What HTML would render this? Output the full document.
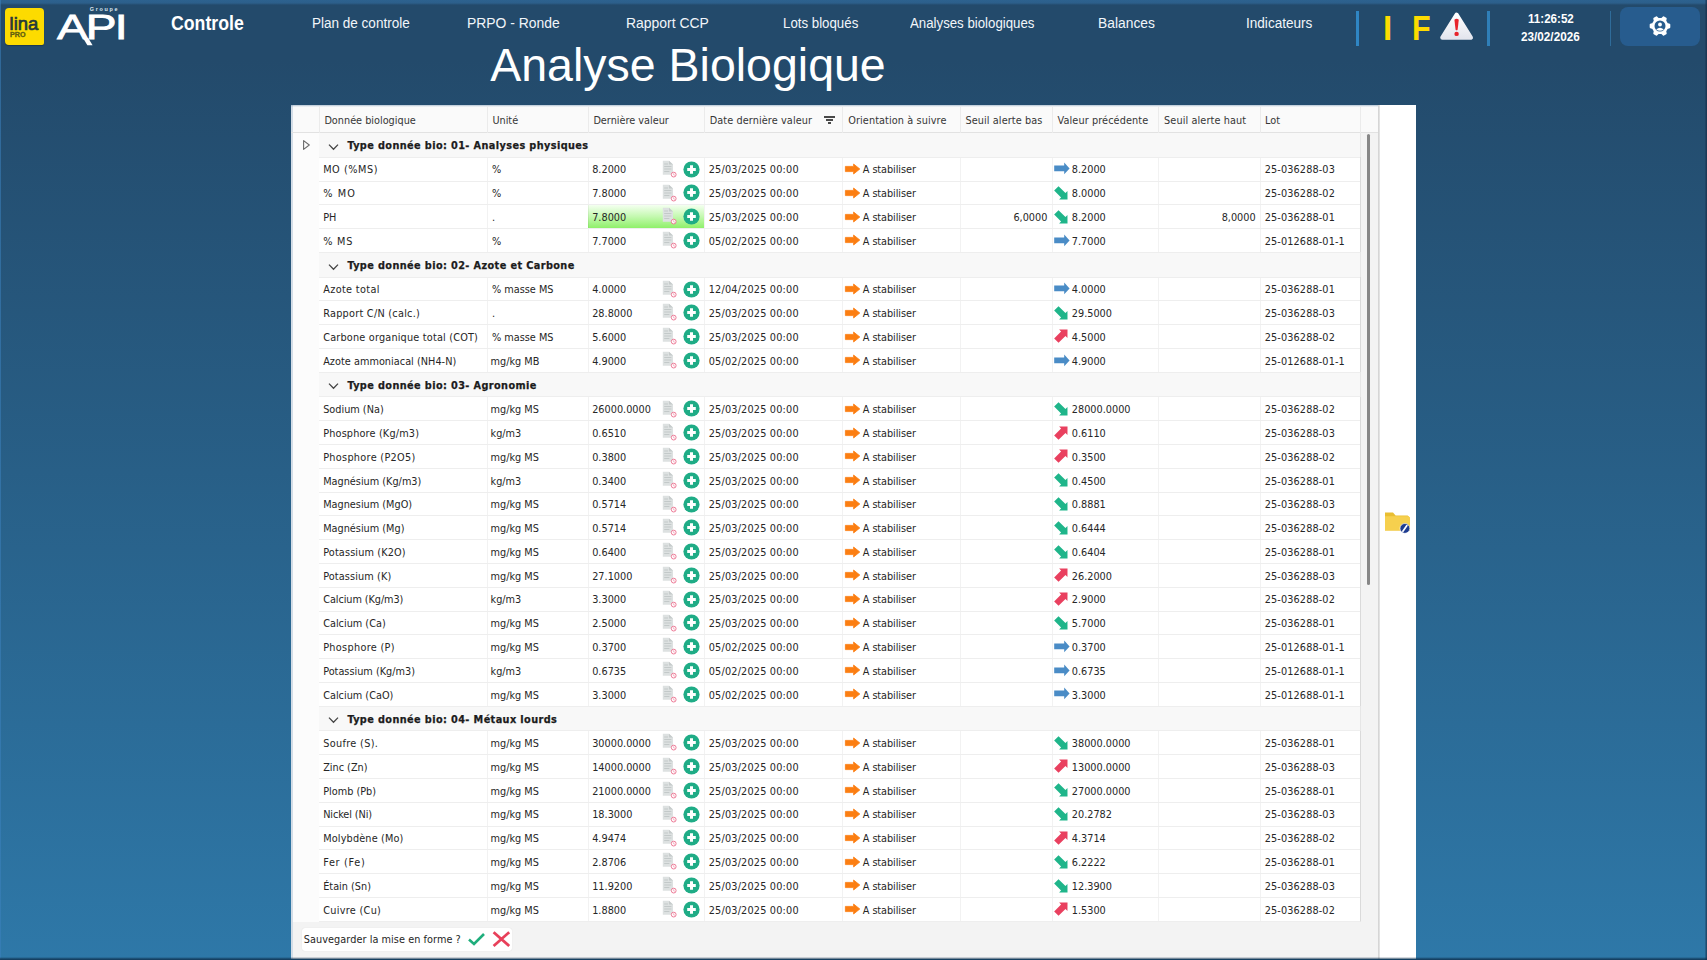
<!DOCTYPE html>
<html lang="fr"><head><meta charset="utf-8"><title>Analyse Biologique</title>
<style>
html,body{margin:0;padding:0}
body{width:1707px;height:960px;overflow:hidden;position:relative;font-family:'DejaVu Sans Condensed','DejaVu Sans','Liberation Sans',sans-serif;
background:linear-gradient(180deg,#234a6b 0px,#234a6b 60px,#2e78a8 960px);}
.t{position:absolute;white-space:nowrap;font-family:'DejaVu Sans Condensed','DejaVu Sans','Liberation Sans',sans-serif;font-stretch:condensed}
.b{position:absolute}
svg{position:absolute;overflow:visible}

</style></head><body>
<div class="b" style="left:0.00px;top:0.00px;width:1707.00px;height:4.60px;background:linear-gradient(180deg,#2d628f 0,#2c5f8b 3px,#254e72 4.6px);"></div>
<div class="b" style="left:0.00px;top:0.00px;width:1.20px;height:960.00px;background:rgba(60,130,190,0.55);"></div>
<div class="b" style="left:1704.60px;top:0.00px;width:2.40px;height:960.00px;background:linear-gradient(90deg,rgba(22,40,66,0),rgba(22,40,66,.55) 45%,rgba(22,40,66,.6));z-index:5"></div>
<div class="b" style="left:0.00px;top:957.30px;width:1707.00px;height:2.70px;background:linear-gradient(180deg,rgba(14,48,78,0),rgba(14,48,78,.55) 50%,rgba(14,48,78,.9));z-index:5"></div>
<div class="b" style="left:4.6px;top:8.1px;width:39.7px;height:36.5px;background:#fddb00;border-radius:4px 4px 2px 4px;box-shadow:0 1px 1px rgba(0,0,0,.25)"></div>
<span class="t" style="left:9.60px;top:11.62px;font-size:18.4px;line-height:24px;color:#25393a;font-family:'Liberation Sans',sans-serif;-webkit-text-stroke:0.7px #25393a;">lina</span>
<span class="t" style="left:9.80px;top:30.78px;font-size:6.4px;line-height:8px;color:#625f10;font-family:'Liberation Sans',sans-serif;font-weight:bold;transform:scaleX(1.12);transform-origin:0 50%;-webkit-text-stroke:0.3px #625f10;">PRO</span>
<span class="t" style="left:89.70px;top:5.92px;font-size:5.4px;line-height:7px;color:#dfe8f0;font-family:'Liberation Sans',sans-serif;font-weight:bold;letter-spacing:1.75px;">Groupe</span>
<span class="t" style="left:56.60px;top:4.17px;font-size:35.5px;line-height:46px;color:#ffffff;font-family:'Liberation Sans',sans-serif;letter-spacing:-1.5px;transform:scaleX(1.3);transform-origin:0 50%;-webkit-text-stroke:0.8px #fff;">API</span>
<svg style="left:50px;top:0" width="90" height="60" viewBox="0 0 90 60"><path d="M33.0 38.0 L38.2 38.0 L42.6 45.2 L37.4 45.2 Z" fill="#fff"/></svg>
<span class="t" style="left:170.60px;top:10.29px;font-size:20px;line-height:26px;color:#fff;font-family:'Liberation Sans',sans-serif;font-weight:bold;transform:scaleX(0.885);transform-origin:0 50%;">Controle</span>
<span class="t" style="left:311.90px;top:14.54px;font-size:13.8px;line-height:18px;color:#f2f6fa;font-family:'Liberation Sans',sans-serif;transform:scaleX(0.98);transform-origin:0 50%;">Plan de controle</span>
<span class="t" style="left:466.90px;top:14.54px;font-size:13.8px;line-height:18px;color:#f2f6fa;font-family:'Liberation Sans',sans-serif;transform:scaleX(1.008);transform-origin:0 50%;">PRPO - Ronde</span>
<span class="t" style="left:625.90px;top:14.54px;font-size:13.8px;line-height:18px;color:#f2f6fa;font-family:'Liberation Sans',sans-serif;transform:scaleX(1.01);transform-origin:0 50%;">Rapport CCP</span>
<span class="t" style="left:782.70px;top:14.54px;font-size:13.8px;line-height:18px;color:#f2f6fa;font-family:'Liberation Sans',sans-serif;transform:scaleX(0.962);transform-origin:0 50%;">Lots bloqués</span>
<span class="t" style="left:910.10px;top:14.54px;font-size:13.8px;line-height:18px;color:#f2f6fa;font-family:'Liberation Sans',sans-serif;transform:scaleX(0.96);transform-origin:0 50%;">Analyses biologiques</span>
<span class="t" style="left:1098.10px;top:14.54px;font-size:13.8px;line-height:18px;color:#f2f6fa;font-family:'Liberation Sans',sans-serif;">Balances</span>
<span class="t" style="left:1245.90px;top:14.54px;font-size:13.8px;line-height:18px;color:#f2f6fa;font-family:'Liberation Sans',sans-serif;transform:scaleX(0.984);transform-origin:0 50%;">Indicateurs</span>
<div class="b" style="left:1356.00px;top:10.50px;width:2.50px;height:35.00px;background:#2f86c4;"></div>
<div class="b" style="left:1487.00px;top:10.50px;width:2.80px;height:35.00px;background:#2f7fb8;"></div>
<div class="b" style="left:1609.80px;top:10.50px;width:1.20px;height:35.50px;background:#2f6c9a;"></div>
<span class="t" style="left:1383.30px;top:5.33px;font-size:35px;line-height:46px;color:#fddb00;font-family:'Liberation Sans',sans-serif;font-weight:bold;transform:scaleX(0.95);transform-origin:0 50%;">I</span>
<span class="t" style="left:1411.60px;top:5.33px;font-size:35px;line-height:46px;color:#fddb00;font-family:'Liberation Sans',sans-serif;font-weight:bold;transform:scaleX(0.87);transform-origin:0 50%;">F</span>
<svg style="left:1438px;top:10px" width="38" height="32" viewBox="0 0 38 32"><defs><linearGradient id="wg" x1="0" y1="0" x2="0" y2="1"><stop offset="0" stop-color="#ffffff"/><stop offset="1" stop-color="#e4e6ee"/></linearGradient></defs><path d="M18.6 4.8 L32.8 27.6 L4.4 27.6 Z" fill="url(#wg)" stroke="url(#wg)" stroke-width="4.4" stroke-linejoin="round"/><path d="M16.4 9.8 Q18.6 7.6 20.8 9.8 L19.6 19.8 Q18.6 20.8 17.6 19.8 Z" fill="#e8242c"/><circle cx="18.6" cy="23.9" r="2.2" fill="#e8242c"/></svg>
<span class="t" style="left:1527.60px;top:11.00px;font-size:12.7px;line-height:17px;color:#fff;font-family:'Liberation Sans',sans-serif;font-weight:bold;transform:scaleX(0.915);transform-origin:0 50%;">11:26:52</span>
<span class="t" style="left:1521.20px;top:28.90px;font-size:12.7px;line-height:17px;color:#fff;font-family:'Liberation Sans',sans-serif;font-weight:bold;transform:scaleX(0.925);transform-origin:0 50%;">23/02/2026</span>
<div class="b" style="left:1619.5px;top:6.7px;width:80.5px;height:39.3px;background:#275c8e;border-radius:8px"></div>
<svg style="left:1648.5px;top:15.4px" width="22" height="22" viewBox="0 0 22 22"><path d="M18.11 8.94 L20.41 9.71 L20.41 12.29 L18.11 13.06 L16.34 16.12 L16.82 18.51 L14.59 19.80 L12.77 18.19 L9.23 18.19 L7.41 19.80 L5.18 18.51 L5.66 16.12 L3.89 13.06 L1.59 12.29 L1.59 9.71 L3.89 8.94 L5.66 5.88 L5.18 3.49 L7.41 2.20 L9.23 3.81 L12.77 3.81 L14.59 2.20 L16.82 3.49 L16.34 5.88Z" fill="#fff" stroke="#fff" stroke-width="1.8" stroke-linejoin="round"/><circle cx="11" cy="11" r="5.5" fill="#275c8e"/><circle cx="11" cy="9.5" r="1.9" fill="#fff"/><path d="M7.2 14.4 Q11 11.2 14.8 14.4 Q11 17.2 7.2 14.4Z" fill="#fff"/></svg>
<span class="t" style="left:490.20px;top:35.23px;font-size:46.5px;line-height:60px;color:#ffffff;font-family:'Liberation Sans',sans-serif;">Analyse Biologique</span>
<div class="b" style="left:291.00px;top:105.00px;width:1087.00px;height:854.00px;background:#f3f3f3;"></div>
<div class="b" style="left:291.00px;top:105.00px;width:1.60px;height:854.00px;background:#d3dde7;"></div>
<div class="b" style="left:1378.00px;top:105.00px;width:2.40px;height:854.00px;background:linear-gradient(90deg,#cfcfcf,#e9e9e9);"></div>
<div class="b" style="left:1380.20px;top:105.00px;width:35.80px;height:854.00px;background:#ffffff;"></div>
<div class="b" style="left:292.60px;top:105.00px;width:1085.40px;height:27.50px;background:#fafafa;"></div>
<div class="b" style="left:291.00px;top:105.00px;width:1087.00px;height:1.60px;background:linear-gradient(180deg,rgba(120,150,180,.55),rgba(160,185,205,0));"></div>
<div class="b" style="left:291.00px;top:132.00px;width:1087.00px;height:1.00px;background:#e2e2e2;"></div>
<div class="b" style="left:318.50px;top:106.00px;width:1.00px;height:26.50px;background:#ebebeb;"></div>
<div class="b" style="left:486.50px;top:106.00px;width:1.00px;height:26.50px;background:#ebebeb;"></div>
<div class="b" style="left:587.50px;top:106.00px;width:1.00px;height:26.50px;background:#ebebeb;"></div>
<div class="b" style="left:703.80px;top:106.00px;width:1.00px;height:26.50px;background:#ebebeb;"></div>
<div class="b" style="left:842.30px;top:106.00px;width:1.00px;height:26.50px;background:#ebebeb;"></div>
<div class="b" style="left:959.50px;top:106.00px;width:1.00px;height:26.50px;background:#ebebeb;"></div>
<div class="b" style="left:1051.70px;top:106.00px;width:1.00px;height:26.50px;background:#ebebeb;"></div>
<div class="b" style="left:1158.20px;top:106.00px;width:1.00px;height:26.50px;background:#ebebeb;"></div>
<div class="b" style="left:1260.00px;top:106.00px;width:1.00px;height:26.50px;background:#ebebeb;"></div>
<div class="b" style="left:1359.80px;top:106.00px;width:1.00px;height:26.50px;background:#ebebeb;"></div>
<span class="t" style="left:324.40px;top:113.66px;font-size:10.8px;line-height:14px;color:#363636;">Donnée biologique</span>
<span class="t" style="left:492.40px;top:113.66px;font-size:10.8px;line-height:14px;color:#363636;">Unité</span>
<span class="t" style="left:593.40px;top:113.66px;font-size:10.8px;line-height:14px;color:#363636;">Dernière valeur</span>
<span class="t" style="left:709.70px;top:113.66px;font-size:10.8px;line-height:14px;color:#363636;letter-spacing:0.1px;">Date dernière valeur</span>
<span class="t" style="left:848.20px;top:113.66px;font-size:10.8px;line-height:14px;color:#363636;letter-spacing:0.1px;">Orientation à suivre</span>
<span class="t" style="left:965.40px;top:113.66px;font-size:10.8px;line-height:14px;color:#363636;letter-spacing:0.1px;">Seuil alerte bas</span>
<span class="t" style="left:1057.60px;top:113.66px;font-size:10.8px;line-height:14px;color:#363636;letter-spacing:0.1px;">Valeur précédente</span>
<span class="t" style="left:1164.10px;top:113.66px;font-size:10.8px;line-height:14px;color:#363636;letter-spacing:0.1px;">Seuil alerte haut</span>
<span class="t" style="left:1265.00px;top:113.66px;font-size:10.8px;line-height:14px;color:#363636;letter-spacing:0.1px;">Lot</span>
<div class="b" style="left:824.00px;top:115.90px;width:11.30px;height:1.80px;background:#4a4a4a;"></div>
<div class="b" style="left:826.00px;top:119.10px;width:7.30px;height:1.80px;background:#4a4a4a;"></div>
<div class="b" style="left:828.00px;top:122.20px;width:3.30px;height:1.80px;background:#4a4a4a;"></div>
<div class="b" style="left:292.60px;top:132.50px;width:26.40px;height:789.20px;background:#fcfcfc;"></div>
<div class="b" style="left:318.50px;top:132.50px;width:1.00px;height:789.20px;background:#e4e4e4;"></div>
<svg style="left:300px;top:138px" width="12" height="14" viewBox="0 0 12 14"><path d="M3.6 2.6 L9.3 7 L3.6 11.4 Z" fill="none" stroke="#6a6a6a" stroke-width="1.1" stroke-linejoin="round"/></svg>
<div class="b" style="left:319.00px;top:132.50px;width:1041.30px;height:24.75px;background:#f8f8f8;"></div>
<div class="b" style="left:319.00px;top:156.75px;width:1041.30px;height:1.00px;background:#eeeeee;z-index:1"></div>
<svg style="left:328.20px;top:142.68px" width="11" height="8" viewBox="0 0 11 8"><path d="M1 1.6 L5.5 6.2 L10 1.6" fill="none" stroke="#444" stroke-width="1.3"/></svg>
<span class="t" style="left:347.40px;top:139.19px;font-size:10.8px;line-height:14px;color:#1c1c1c;font-weight:bold;letter-spacing:0.4px;-webkit-text-stroke:0.25px #1c1c1c;">Type donnée bio: 01- Analyses physiques</span>
<div class="b" style="left:319.00px;top:157.25px;width:1041.30px;height:23.78px;background:#ffffff;"></div>
<span class="t" style="left:323.20px;top:163.45px;font-size:10.8px;line-height:14px;color:#262626;letter-spacing:0.543px;">MO (%MS)</span>
<span class="t" style="left:492.00px;top:163.45px;font-size:10.8px;line-height:14px;color:#262626;">%</span>
<span class="t" style="left:592.20px;top:163.45px;font-size:10.8px;line-height:14px;color:#262626;">8.2000</span>
<svg style="left:661.80px;top:159.84px" width="16" height="18" viewBox="0 0 16 18"><path d="M0.8 0.8 H7 L11 4.6 V14.8 H0.8 Z" fill="#dde1e1"/><path d="M7 0.8 L11 4.6 H7 Z" fill="#c6cbcb"/><path d="M2.2 4 H6 M2.2 6.5 H9.4 M2.2 9 H9.4 M2.2 11.5 H7.4" stroke="#c3c9c9" stroke-width="1"/><circle cx="11.7" cy="14.6" r="2.4" fill="#fff" stroke="#ec7592" stroke-width="0.95"/><path d="M11.7 13.3 V14.8 L12.8 15.3" stroke="#ec7592" stroke-width="0.6" fill="none"/></svg>
<svg style="left:683.00px;top:160.64px" width="17" height="17" viewBox="0 0 17 17"><circle cx="8.5" cy="8.5" r="8.1" fill="#1fac86"/><path d="M8.5 4.2 V12.8 M4.2 8.5 H12.8" stroke="#fff" stroke-width="3"/></svg>
<span class="t" style="left:708.70px;top:163.45px;font-size:10.8px;line-height:14px;color:#262626;letter-spacing:0.19px;">25/03/2025 00:00</span>
<svg style="left:844.60px;top:163.14px" width="16" height="12" viewBox="0 0 16 12"><path d="M0.4 3.4 H8.6 V1 L14.8 6 L8.6 11 V8.6 H0.4 Z" fill="#fb7e12" stroke="#fb7e12" stroke-width="0.8" stroke-linejoin="round"/></svg>
<span class="t" style="left:862.80px;top:163.45px;font-size:10.8px;line-height:14px;color:#262626;letter-spacing:-0.07px;">A stabiliser</span>
<svg style="left:1054.00px;top:162.34px" width="17" height="13" viewBox="0 0 17 13"><path d="M0.2 3.6 H10.2 V0.6 L15.6 6.4 L10.2 12.2 V9.2 H0.2 Z" fill="#4a8cc6"/></svg>
<span class="t" style="left:1071.80px;top:163.45px;font-size:10.8px;line-height:14px;color:#262626;">8.2000</span>
<span class="t" style="left:1264.80px;top:163.45px;font-size:10.8px;line-height:14px;color:#262626;letter-spacing:0.11px;">25-036288-03</span>
<div class="b" style="left:319.00px;top:180.53px;width:1041.30px;height:1.00px;background:#eeeeee;z-index:1"></div>
<div class="b" style="left:319.00px;top:181.03px;width:1041.30px;height:23.78px;background:#ffffff;"></div>
<span class="t" style="left:323.20px;top:187.23px;font-size:10.8px;line-height:14px;color:#262626;letter-spacing:1.133px;">% MO</span>
<span class="t" style="left:492.00px;top:187.23px;font-size:10.8px;line-height:14px;color:#262626;">%</span>
<span class="t" style="left:592.20px;top:187.23px;font-size:10.8px;line-height:14px;color:#262626;">7.8000</span>
<svg style="left:661.80px;top:183.62px" width="16" height="18" viewBox="0 0 16 18"><path d="M0.8 0.8 H7 L11 4.6 V14.8 H0.8 Z" fill="#dde1e1"/><path d="M7 0.8 L11 4.6 H7 Z" fill="#c6cbcb"/><path d="M2.2 4 H6 M2.2 6.5 H9.4 M2.2 9 H9.4 M2.2 11.5 H7.4" stroke="#c3c9c9" stroke-width="1"/><circle cx="11.7" cy="14.6" r="2.4" fill="#fff" stroke="#ec7592" stroke-width="0.95"/><path d="M11.7 13.3 V14.8 L12.8 15.3" stroke="#ec7592" stroke-width="0.6" fill="none"/></svg>
<svg style="left:683.00px;top:184.42px" width="17" height="17" viewBox="0 0 17 17"><circle cx="8.5" cy="8.5" r="8.1" fill="#1fac86"/><path d="M8.5 4.2 V12.8 M4.2 8.5 H12.8" stroke="#fff" stroke-width="3"/></svg>
<span class="t" style="left:708.70px;top:187.23px;font-size:10.8px;line-height:14px;color:#262626;letter-spacing:0.19px;">25/03/2025 00:00</span>
<svg style="left:844.60px;top:186.92px" width="16" height="12" viewBox="0 0 16 12"><path d="M0.4 3.4 H8.6 V1 L14.8 6 L8.6 11 V8.6 H0.4 Z" fill="#fb7e12" stroke="#fb7e12" stroke-width="0.8" stroke-linejoin="round"/></svg>
<span class="t" style="left:862.80px;top:187.23px;font-size:10.8px;line-height:14px;color:#262626;letter-spacing:-0.07px;">A stabiliser</span>
<svg style="left:1055.00px;top:187.02px" width="15" height="15" viewBox="0 0 15 15"><g transform="rotate(45 7.5 7.5)"><path d="M-1.2 4.4 H8.6 V1.6 L14.6 7.5 L8.6 13.4 V10.6 H-1.2 Z" fill="#1fb58a"/></g></svg>
<span class="t" style="left:1071.80px;top:187.23px;font-size:10.8px;line-height:14px;color:#262626;">8.0000</span>
<span class="t" style="left:1264.80px;top:187.23px;font-size:10.8px;line-height:14px;color:#262626;letter-spacing:0.11px;">25-036288-02</span>
<div class="b" style="left:319.00px;top:204.31px;width:1041.30px;height:1.00px;background:#eeeeee;z-index:1"></div>
<div class="b" style="left:319.00px;top:204.81px;width:1041.30px;height:23.78px;background:#ffffff;"></div>
<div class="b" style="left:588.00px;top:205.31px;width:116.30px;height:22.78px;background:linear-gradient(180deg,#f4fff0 0%,#c4f9b0 50%,#8ff06a 100%);"></div>
<span class="t" style="left:323.20px;top:211.01px;font-size:10.8px;line-height:14px;color:#262626;">PH</span>
<span class="t" style="left:492.00px;top:211.01px;font-size:10.8px;line-height:14px;color:#262626;">.</span>
<span class="t" style="left:592.20px;top:211.01px;font-size:10.8px;line-height:14px;color:#262626;">7.8000</span>
<svg style="left:661.80px;top:207.40px" width="16" height="18" viewBox="0 0 16 18"><path d="M0.8 0.8 H7 L11 4.6 V14.8 H0.8 Z" fill="#dde1e1"/><path d="M7 0.8 L11 4.6 H7 Z" fill="#c6cbcb"/><path d="M2.2 4 H6 M2.2 6.5 H9.4 M2.2 9 H9.4 M2.2 11.5 H7.4" stroke="#c3c9c9" stroke-width="1"/><circle cx="11.7" cy="14.6" r="2.4" fill="#fff" stroke="#ec7592" stroke-width="0.95"/><path d="M11.7 13.3 V14.8 L12.8 15.3" stroke="#ec7592" stroke-width="0.6" fill="none"/></svg>
<svg style="left:683.00px;top:208.20px" width="17" height="17" viewBox="0 0 17 17"><circle cx="8.5" cy="8.5" r="8.1" fill="#1fac86"/><path d="M8.5 4.2 V12.8 M4.2 8.5 H12.8" stroke="#fff" stroke-width="3"/></svg>
<span class="t" style="left:708.70px;top:211.01px;font-size:10.8px;line-height:14px;color:#262626;letter-spacing:0.19px;">25/03/2025 00:00</span>
<svg style="left:844.60px;top:210.70px" width="16" height="12" viewBox="0 0 16 12"><path d="M0.4 3.4 H8.6 V1 L14.8 6 L8.6 11 V8.6 H0.4 Z" fill="#fb7e12" stroke="#fb7e12" stroke-width="0.8" stroke-linejoin="round"/></svg>
<span class="t" style="left:862.80px;top:211.01px;font-size:10.8px;line-height:14px;color:#262626;letter-spacing:-0.07px;">A stabiliser</span>
<span class="t" style="right:659.60px;top:211.01px;font-size:10.8px;line-height:14px;color:#262626;">6,0000</span>
<svg style="left:1055.00px;top:210.80px" width="15" height="15" viewBox="0 0 15 15"><g transform="rotate(45 7.5 7.5)"><path d="M-1.2 4.4 H8.6 V1.6 L14.6 7.5 L8.6 13.4 V10.6 H-1.2 Z" fill="#1fb58a"/></g></svg>
<span class="t" style="left:1071.80px;top:211.01px;font-size:10.8px;line-height:14px;color:#262626;">8.2000</span>
<span class="t" style="right:451.40px;top:211.01px;font-size:10.8px;line-height:14px;color:#262626;">8,0000</span>
<span class="t" style="left:1264.80px;top:211.01px;font-size:10.8px;line-height:14px;color:#262626;letter-spacing:0.11px;">25-036288-01</span>
<div class="b" style="left:319.00px;top:228.09px;width:1041.30px;height:1.00px;background:#eeeeee;z-index:1"></div>
<div class="b" style="left:319.00px;top:228.59px;width:1041.30px;height:23.78px;background:#ffffff;"></div>
<span class="t" style="left:323.20px;top:234.79px;font-size:10.8px;line-height:14px;color:#262626;letter-spacing:0.8px;">% MS</span>
<span class="t" style="left:492.00px;top:234.79px;font-size:10.8px;line-height:14px;color:#262626;">%</span>
<span class="t" style="left:592.20px;top:234.79px;font-size:10.8px;line-height:14px;color:#262626;">7.7000</span>
<svg style="left:661.80px;top:231.18px" width="16" height="18" viewBox="0 0 16 18"><path d="M0.8 0.8 H7 L11 4.6 V14.8 H0.8 Z" fill="#dde1e1"/><path d="M7 0.8 L11 4.6 H7 Z" fill="#c6cbcb"/><path d="M2.2 4 H6 M2.2 6.5 H9.4 M2.2 9 H9.4 M2.2 11.5 H7.4" stroke="#c3c9c9" stroke-width="1"/><circle cx="11.7" cy="14.6" r="2.4" fill="#fff" stroke="#ec7592" stroke-width="0.95"/><path d="M11.7 13.3 V14.8 L12.8 15.3" stroke="#ec7592" stroke-width="0.6" fill="none"/></svg>
<svg style="left:683.00px;top:231.98px" width="17" height="17" viewBox="0 0 17 17"><circle cx="8.5" cy="8.5" r="8.1" fill="#1fac86"/><path d="M8.5 4.2 V12.8 M4.2 8.5 H12.8" stroke="#fff" stroke-width="3"/></svg>
<span class="t" style="left:708.70px;top:234.79px;font-size:10.8px;line-height:14px;color:#262626;letter-spacing:0.19px;">05/02/2025 00:00</span>
<svg style="left:844.60px;top:234.48px" width="16" height="12" viewBox="0 0 16 12"><path d="M0.4 3.4 H8.6 V1 L14.8 6 L8.6 11 V8.6 H0.4 Z" fill="#fb7e12" stroke="#fb7e12" stroke-width="0.8" stroke-linejoin="round"/></svg>
<span class="t" style="left:862.80px;top:234.79px;font-size:10.8px;line-height:14px;color:#262626;letter-spacing:-0.07px;">A stabiliser</span>
<svg style="left:1054.00px;top:233.68px" width="17" height="13" viewBox="0 0 17 13"><path d="M0.2 3.6 H10.2 V0.6 L15.6 6.4 L10.2 12.2 V9.2 H0.2 Z" fill="#4a8cc6"/></svg>
<span class="t" style="left:1071.80px;top:234.79px;font-size:10.8px;line-height:14px;color:#262626;">7.7000</span>
<span class="t" style="left:1264.80px;top:234.79px;font-size:10.8px;line-height:14px;color:#262626;letter-spacing:0.11px;">25-012688-01-1</span>
<div class="b" style="left:319.00px;top:251.87px;width:1041.30px;height:1.00px;background:#eeeeee;z-index:1"></div>
<div class="b" style="left:319.00px;top:252.37px;width:1041.30px;height:24.75px;background:#f8f8f8;"></div>
<div class="b" style="left:319.00px;top:276.62px;width:1041.30px;height:1.00px;background:#eeeeee;z-index:1"></div>
<svg style="left:328.20px;top:262.55px" width="11" height="8" viewBox="0 0 11 8"><path d="M1 1.6 L5.5 6.2 L10 1.6" fill="none" stroke="#444" stroke-width="1.3"/></svg>
<span class="t" style="left:347.40px;top:259.06px;font-size:10.8px;line-height:14px;color:#1c1c1c;font-weight:bold;letter-spacing:0.4px;-webkit-text-stroke:0.25px #1c1c1c;">Type donnée bio: 02- Azote et Carbone</span>
<div class="b" style="left:319.00px;top:277.12px;width:1041.30px;height:23.78px;background:#ffffff;"></div>
<span class="t" style="left:323.20px;top:283.32px;font-size:10.8px;line-height:14px;color:#262626;letter-spacing:0.35px;">Azote total</span>
<span class="t" style="left:492.00px;top:283.32px;font-size:10.8px;line-height:14px;color:#262626;">% masse MS</span>
<span class="t" style="left:592.20px;top:283.32px;font-size:10.8px;line-height:14px;color:#262626;">4.0000</span>
<svg style="left:661.80px;top:279.71px" width="16" height="18" viewBox="0 0 16 18"><path d="M0.8 0.8 H7 L11 4.6 V14.8 H0.8 Z" fill="#dde1e1"/><path d="M7 0.8 L11 4.6 H7 Z" fill="#c6cbcb"/><path d="M2.2 4 H6 M2.2 6.5 H9.4 M2.2 9 H9.4 M2.2 11.5 H7.4" stroke="#c3c9c9" stroke-width="1"/><circle cx="11.7" cy="14.6" r="2.4" fill="#fff" stroke="#ec7592" stroke-width="0.95"/><path d="M11.7 13.3 V14.8 L12.8 15.3" stroke="#ec7592" stroke-width="0.6" fill="none"/></svg>
<svg style="left:683.00px;top:280.51px" width="17" height="17" viewBox="0 0 17 17"><circle cx="8.5" cy="8.5" r="8.1" fill="#1fac86"/><path d="M8.5 4.2 V12.8 M4.2 8.5 H12.8" stroke="#fff" stroke-width="3"/></svg>
<span class="t" style="left:708.70px;top:283.32px;font-size:10.8px;line-height:14px;color:#262626;letter-spacing:0.19px;">12/04/2025 00:00</span>
<svg style="left:844.60px;top:283.01px" width="16" height="12" viewBox="0 0 16 12"><path d="M0.4 3.4 H8.6 V1 L14.8 6 L8.6 11 V8.6 H0.4 Z" fill="#fb7e12" stroke="#fb7e12" stroke-width="0.8" stroke-linejoin="round"/></svg>
<span class="t" style="left:862.80px;top:283.32px;font-size:10.8px;line-height:14px;color:#262626;letter-spacing:-0.07px;">A stabiliser</span>
<svg style="left:1054.00px;top:282.21px" width="17" height="13" viewBox="0 0 17 13"><path d="M0.2 3.6 H10.2 V0.6 L15.6 6.4 L10.2 12.2 V9.2 H0.2 Z" fill="#4a8cc6"/></svg>
<span class="t" style="left:1071.80px;top:283.32px;font-size:10.8px;line-height:14px;color:#262626;">4.0000</span>
<span class="t" style="left:1264.80px;top:283.32px;font-size:10.8px;line-height:14px;color:#262626;letter-spacing:0.11px;">25-036288-01</span>
<div class="b" style="left:319.00px;top:300.40px;width:1041.30px;height:1.00px;background:#eeeeee;z-index:1"></div>
<div class="b" style="left:319.00px;top:300.90px;width:1041.30px;height:23.78px;background:#ffffff;"></div>
<span class="t" style="left:323.20px;top:307.10px;font-size:10.8px;line-height:14px;color:#262626;letter-spacing:0.256px;">Rapport C/N (calc.)</span>
<span class="t" style="left:492.00px;top:307.10px;font-size:10.8px;line-height:14px;color:#262626;">.</span>
<span class="t" style="left:592.20px;top:307.10px;font-size:10.8px;line-height:14px;color:#262626;">28.8000</span>
<svg style="left:661.80px;top:303.49px" width="16" height="18" viewBox="0 0 16 18"><path d="M0.8 0.8 H7 L11 4.6 V14.8 H0.8 Z" fill="#dde1e1"/><path d="M7 0.8 L11 4.6 H7 Z" fill="#c6cbcb"/><path d="M2.2 4 H6 M2.2 6.5 H9.4 M2.2 9 H9.4 M2.2 11.5 H7.4" stroke="#c3c9c9" stroke-width="1"/><circle cx="11.7" cy="14.6" r="2.4" fill="#fff" stroke="#ec7592" stroke-width="0.95"/><path d="M11.7 13.3 V14.8 L12.8 15.3" stroke="#ec7592" stroke-width="0.6" fill="none"/></svg>
<svg style="left:683.00px;top:304.29px" width="17" height="17" viewBox="0 0 17 17"><circle cx="8.5" cy="8.5" r="8.1" fill="#1fac86"/><path d="M8.5 4.2 V12.8 M4.2 8.5 H12.8" stroke="#fff" stroke-width="3"/></svg>
<span class="t" style="left:708.70px;top:307.10px;font-size:10.8px;line-height:14px;color:#262626;letter-spacing:0.19px;">25/03/2025 00:00</span>
<svg style="left:844.60px;top:306.79px" width="16" height="12" viewBox="0 0 16 12"><path d="M0.4 3.4 H8.6 V1 L14.8 6 L8.6 11 V8.6 H0.4 Z" fill="#fb7e12" stroke="#fb7e12" stroke-width="0.8" stroke-linejoin="round"/></svg>
<span class="t" style="left:862.80px;top:307.10px;font-size:10.8px;line-height:14px;color:#262626;letter-spacing:-0.07px;">A stabiliser</span>
<svg style="left:1055.00px;top:306.89px" width="15" height="15" viewBox="0 0 15 15"><g transform="rotate(45 7.5 7.5)"><path d="M-1.2 4.4 H8.6 V1.6 L14.6 7.5 L8.6 13.4 V10.6 H-1.2 Z" fill="#1fb58a"/></g></svg>
<span class="t" style="left:1071.80px;top:307.10px;font-size:10.8px;line-height:14px;color:#262626;">29.5000</span>
<span class="t" style="left:1264.80px;top:307.10px;font-size:10.8px;line-height:14px;color:#262626;letter-spacing:0.11px;">25-036288-03</span>
<div class="b" style="left:319.00px;top:324.18px;width:1041.30px;height:1.00px;background:#eeeeee;z-index:1"></div>
<div class="b" style="left:319.00px;top:324.68px;width:1041.30px;height:23.78px;background:#ffffff;"></div>
<span class="t" style="left:323.20px;top:330.88px;font-size:10.8px;line-height:14px;color:#262626;letter-spacing:0.189px;">Carbone organique total (COT)</span>
<span class="t" style="left:492.00px;top:330.88px;font-size:10.8px;line-height:14px;color:#262626;">% masse MS</span>
<span class="t" style="left:592.20px;top:330.88px;font-size:10.8px;line-height:14px;color:#262626;">5.6000</span>
<svg style="left:661.80px;top:327.27px" width="16" height="18" viewBox="0 0 16 18"><path d="M0.8 0.8 H7 L11 4.6 V14.8 H0.8 Z" fill="#dde1e1"/><path d="M7 0.8 L11 4.6 H7 Z" fill="#c6cbcb"/><path d="M2.2 4 H6 M2.2 6.5 H9.4 M2.2 9 H9.4 M2.2 11.5 H7.4" stroke="#c3c9c9" stroke-width="1"/><circle cx="11.7" cy="14.6" r="2.4" fill="#fff" stroke="#ec7592" stroke-width="0.95"/><path d="M11.7 13.3 V14.8 L12.8 15.3" stroke="#ec7592" stroke-width="0.6" fill="none"/></svg>
<svg style="left:683.00px;top:328.07px" width="17" height="17" viewBox="0 0 17 17"><circle cx="8.5" cy="8.5" r="8.1" fill="#1fac86"/><path d="M8.5 4.2 V12.8 M4.2 8.5 H12.8" stroke="#fff" stroke-width="3"/></svg>
<span class="t" style="left:708.70px;top:330.88px;font-size:10.8px;line-height:14px;color:#262626;letter-spacing:0.19px;">25/03/2025 00:00</span>
<svg style="left:844.60px;top:330.57px" width="16" height="12" viewBox="0 0 16 12"><path d="M0.4 3.4 H8.6 V1 L14.8 6 L8.6 11 V8.6 H0.4 Z" fill="#fb7e12" stroke="#fb7e12" stroke-width="0.8" stroke-linejoin="round"/></svg>
<span class="t" style="left:862.80px;top:330.88px;font-size:10.8px;line-height:14px;color:#262626;letter-spacing:-0.07px;">A stabiliser</span>
<svg style="left:1054.70px;top:327.47px" width="15" height="15" viewBox="0 0 15 15"><g transform="rotate(-45 7.5 7.5)"><path d="M-1.2 4.4 H8.6 V1.6 L14.6 7.5 L8.6 13.4 V10.6 H-1.2 Z" fill="#e9405f"/></g></svg>
<span class="t" style="left:1071.80px;top:330.88px;font-size:10.8px;line-height:14px;color:#262626;">4.5000</span>
<span class="t" style="left:1264.80px;top:330.88px;font-size:10.8px;line-height:14px;color:#262626;letter-spacing:0.11px;">25-036288-02</span>
<div class="b" style="left:319.00px;top:347.96px;width:1041.30px;height:1.00px;background:#eeeeee;z-index:1"></div>
<div class="b" style="left:319.00px;top:348.46px;width:1041.30px;height:23.78px;background:#ffffff;"></div>
<span class="t" style="left:323.20px;top:354.66px;font-size:10.8px;line-height:14px;color:#262626;letter-spacing:0.03px;">Azote ammoniacal (NH4-N)</span>
<span class="t" style="left:490.50px;top:354.66px;font-size:10.8px;line-height:14px;color:#262626;">mg/kg MB</span>
<span class="t" style="left:592.20px;top:354.66px;font-size:10.8px;line-height:14px;color:#262626;">4.9000</span>
<svg style="left:661.80px;top:351.05px" width="16" height="18" viewBox="0 0 16 18"><path d="M0.8 0.8 H7 L11 4.6 V14.8 H0.8 Z" fill="#dde1e1"/><path d="M7 0.8 L11 4.6 H7 Z" fill="#c6cbcb"/><path d="M2.2 4 H6 M2.2 6.5 H9.4 M2.2 9 H9.4 M2.2 11.5 H7.4" stroke="#c3c9c9" stroke-width="1"/><circle cx="11.7" cy="14.6" r="2.4" fill="#fff" stroke="#ec7592" stroke-width="0.95"/><path d="M11.7 13.3 V14.8 L12.8 15.3" stroke="#ec7592" stroke-width="0.6" fill="none"/></svg>
<svg style="left:683.00px;top:351.85px" width="17" height="17" viewBox="0 0 17 17"><circle cx="8.5" cy="8.5" r="8.1" fill="#1fac86"/><path d="M8.5 4.2 V12.8 M4.2 8.5 H12.8" stroke="#fff" stroke-width="3"/></svg>
<span class="t" style="left:708.70px;top:354.66px;font-size:10.8px;line-height:14px;color:#262626;letter-spacing:0.19px;">05/02/2025 00:00</span>
<svg style="left:844.60px;top:354.35px" width="16" height="12" viewBox="0 0 16 12"><path d="M0.4 3.4 H8.6 V1 L14.8 6 L8.6 11 V8.6 H0.4 Z" fill="#fb7e12" stroke="#fb7e12" stroke-width="0.8" stroke-linejoin="round"/></svg>
<span class="t" style="left:862.80px;top:354.66px;font-size:10.8px;line-height:14px;color:#262626;letter-spacing:-0.07px;">A stabiliser</span>
<svg style="left:1054.00px;top:353.55px" width="17" height="13" viewBox="0 0 17 13"><path d="M0.2 3.6 H10.2 V0.6 L15.6 6.4 L10.2 12.2 V9.2 H0.2 Z" fill="#4a8cc6"/></svg>
<span class="t" style="left:1071.80px;top:354.66px;font-size:10.8px;line-height:14px;color:#262626;">4.9000</span>
<span class="t" style="left:1264.80px;top:354.66px;font-size:10.8px;line-height:14px;color:#262626;letter-spacing:0.11px;">25-012688-01-1</span>
<div class="b" style="left:319.00px;top:371.74px;width:1041.30px;height:1.00px;background:#eeeeee;z-index:1"></div>
<div class="b" style="left:319.00px;top:372.24px;width:1041.30px;height:24.75px;background:#f8f8f8;"></div>
<div class="b" style="left:319.00px;top:396.49px;width:1041.30px;height:1.00px;background:#eeeeee;z-index:1"></div>
<svg style="left:328.20px;top:382.41px" width="11" height="8" viewBox="0 0 11 8"><path d="M1 1.6 L5.5 6.2 L10 1.6" fill="none" stroke="#444" stroke-width="1.3"/></svg>
<span class="t" style="left:347.40px;top:378.93px;font-size:10.8px;line-height:14px;color:#1c1c1c;font-weight:bold;letter-spacing:0.4px;-webkit-text-stroke:0.25px #1c1c1c;">Type donnée bio: 03- Agronomie</span>
<div class="b" style="left:319.00px;top:396.99px;width:1041.30px;height:23.78px;background:#ffffff;"></div>
<span class="t" style="left:323.20px;top:403.19px;font-size:10.8px;line-height:14px;color:#262626;">Sodium (Na)</span>
<span class="t" style="left:490.50px;top:403.19px;font-size:10.8px;line-height:14px;color:#262626;">mg/kg MS</span>
<span class="t" style="left:592.20px;top:403.19px;font-size:10.8px;line-height:14px;color:#262626;">26000.0000</span>
<svg style="left:661.80px;top:399.58px" width="16" height="18" viewBox="0 0 16 18"><path d="M0.8 0.8 H7 L11 4.6 V14.8 H0.8 Z" fill="#dde1e1"/><path d="M7 0.8 L11 4.6 H7 Z" fill="#c6cbcb"/><path d="M2.2 4 H6 M2.2 6.5 H9.4 M2.2 9 H9.4 M2.2 11.5 H7.4" stroke="#c3c9c9" stroke-width="1"/><circle cx="11.7" cy="14.6" r="2.4" fill="#fff" stroke="#ec7592" stroke-width="0.95"/><path d="M11.7 13.3 V14.8 L12.8 15.3" stroke="#ec7592" stroke-width="0.6" fill="none"/></svg>
<svg style="left:683.00px;top:400.38px" width="17" height="17" viewBox="0 0 17 17"><circle cx="8.5" cy="8.5" r="8.1" fill="#1fac86"/><path d="M8.5 4.2 V12.8 M4.2 8.5 H12.8" stroke="#fff" stroke-width="3"/></svg>
<span class="t" style="left:708.70px;top:403.19px;font-size:10.8px;line-height:14px;color:#262626;letter-spacing:0.19px;">25/03/2025 00:00</span>
<svg style="left:844.60px;top:402.88px" width="16" height="12" viewBox="0 0 16 12"><path d="M0.4 3.4 H8.6 V1 L14.8 6 L8.6 11 V8.6 H0.4 Z" fill="#fb7e12" stroke="#fb7e12" stroke-width="0.8" stroke-linejoin="round"/></svg>
<span class="t" style="left:862.80px;top:403.19px;font-size:10.8px;line-height:14px;color:#262626;letter-spacing:-0.07px;">A stabiliser</span>
<svg style="left:1055.00px;top:402.98px" width="15" height="15" viewBox="0 0 15 15"><g transform="rotate(45 7.5 7.5)"><path d="M-1.2 4.4 H8.6 V1.6 L14.6 7.5 L8.6 13.4 V10.6 H-1.2 Z" fill="#1fb58a"/></g></svg>
<span class="t" style="left:1071.80px;top:403.19px;font-size:10.8px;line-height:14px;color:#262626;">28000.0000</span>
<span class="t" style="left:1264.80px;top:403.19px;font-size:10.8px;line-height:14px;color:#262626;letter-spacing:0.11px;">25-036288-02</span>
<div class="b" style="left:319.00px;top:420.27px;width:1041.30px;height:1.00px;background:#eeeeee;z-index:1"></div>
<div class="b" style="left:319.00px;top:420.77px;width:1041.30px;height:23.78px;background:#ffffff;"></div>
<span class="t" style="left:323.20px;top:426.97px;font-size:10.8px;line-height:14px;color:#262626;letter-spacing:0.163px;">Phosphore (Kg/m3)</span>
<span class="t" style="left:490.50px;top:426.97px;font-size:10.8px;line-height:14px;color:#262626;">kg/m3</span>
<span class="t" style="left:592.20px;top:426.97px;font-size:10.8px;line-height:14px;color:#262626;">0.6510</span>
<svg style="left:661.80px;top:423.36px" width="16" height="18" viewBox="0 0 16 18"><path d="M0.8 0.8 H7 L11 4.6 V14.8 H0.8 Z" fill="#dde1e1"/><path d="M7 0.8 L11 4.6 H7 Z" fill="#c6cbcb"/><path d="M2.2 4 H6 M2.2 6.5 H9.4 M2.2 9 H9.4 M2.2 11.5 H7.4" stroke="#c3c9c9" stroke-width="1"/><circle cx="11.7" cy="14.6" r="2.4" fill="#fff" stroke="#ec7592" stroke-width="0.95"/><path d="M11.7 13.3 V14.8 L12.8 15.3" stroke="#ec7592" stroke-width="0.6" fill="none"/></svg>
<svg style="left:683.00px;top:424.16px" width="17" height="17" viewBox="0 0 17 17"><circle cx="8.5" cy="8.5" r="8.1" fill="#1fac86"/><path d="M8.5 4.2 V12.8 M4.2 8.5 H12.8" stroke="#fff" stroke-width="3"/></svg>
<span class="t" style="left:708.70px;top:426.97px;font-size:10.8px;line-height:14px;color:#262626;letter-spacing:0.19px;">25/03/2025 00:00</span>
<svg style="left:844.60px;top:426.66px" width="16" height="12" viewBox="0 0 16 12"><path d="M0.4 3.4 H8.6 V1 L14.8 6 L8.6 11 V8.6 H0.4 Z" fill="#fb7e12" stroke="#fb7e12" stroke-width="0.8" stroke-linejoin="round"/></svg>
<span class="t" style="left:862.80px;top:426.97px;font-size:10.8px;line-height:14px;color:#262626;letter-spacing:-0.07px;">A stabiliser</span>
<svg style="left:1054.70px;top:423.56px" width="15" height="15" viewBox="0 0 15 15"><g transform="rotate(-45 7.5 7.5)"><path d="M-1.2 4.4 H8.6 V1.6 L14.6 7.5 L8.6 13.4 V10.6 H-1.2 Z" fill="#e9405f"/></g></svg>
<span class="t" style="left:1071.80px;top:426.97px;font-size:10.8px;line-height:14px;color:#262626;">0.6110</span>
<span class="t" style="left:1264.80px;top:426.97px;font-size:10.8px;line-height:14px;color:#262626;letter-spacing:0.11px;">25-036288-03</span>
<div class="b" style="left:319.00px;top:444.05px;width:1041.30px;height:1.00px;background:#eeeeee;z-index:1"></div>
<div class="b" style="left:319.00px;top:444.55px;width:1041.30px;height:23.78px;background:#ffffff;"></div>
<span class="t" style="left:323.20px;top:450.75px;font-size:10.8px;line-height:14px;color:#262626;letter-spacing:0.3px;">Phosphore (P2O5)</span>
<span class="t" style="left:490.50px;top:450.75px;font-size:10.8px;line-height:14px;color:#262626;">mg/kg MS</span>
<span class="t" style="left:592.20px;top:450.75px;font-size:10.8px;line-height:14px;color:#262626;">0.3800</span>
<svg style="left:661.80px;top:447.14px" width="16" height="18" viewBox="0 0 16 18"><path d="M0.8 0.8 H7 L11 4.6 V14.8 H0.8 Z" fill="#dde1e1"/><path d="M7 0.8 L11 4.6 H7 Z" fill="#c6cbcb"/><path d="M2.2 4 H6 M2.2 6.5 H9.4 M2.2 9 H9.4 M2.2 11.5 H7.4" stroke="#c3c9c9" stroke-width="1"/><circle cx="11.7" cy="14.6" r="2.4" fill="#fff" stroke="#ec7592" stroke-width="0.95"/><path d="M11.7 13.3 V14.8 L12.8 15.3" stroke="#ec7592" stroke-width="0.6" fill="none"/></svg>
<svg style="left:683.00px;top:447.94px" width="17" height="17" viewBox="0 0 17 17"><circle cx="8.5" cy="8.5" r="8.1" fill="#1fac86"/><path d="M8.5 4.2 V12.8 M4.2 8.5 H12.8" stroke="#fff" stroke-width="3"/></svg>
<span class="t" style="left:708.70px;top:450.75px;font-size:10.8px;line-height:14px;color:#262626;letter-spacing:0.19px;">25/03/2025 00:00</span>
<svg style="left:844.60px;top:450.44px" width="16" height="12" viewBox="0 0 16 12"><path d="M0.4 3.4 H8.6 V1 L14.8 6 L8.6 11 V8.6 H0.4 Z" fill="#fb7e12" stroke="#fb7e12" stroke-width="0.8" stroke-linejoin="round"/></svg>
<span class="t" style="left:862.80px;top:450.75px;font-size:10.8px;line-height:14px;color:#262626;letter-spacing:-0.07px;">A stabiliser</span>
<svg style="left:1054.70px;top:447.34px" width="15" height="15" viewBox="0 0 15 15"><g transform="rotate(-45 7.5 7.5)"><path d="M-1.2 4.4 H8.6 V1.6 L14.6 7.5 L8.6 13.4 V10.6 H-1.2 Z" fill="#e9405f"/></g></svg>
<span class="t" style="left:1071.80px;top:450.75px;font-size:10.8px;line-height:14px;color:#262626;">0.3500</span>
<span class="t" style="left:1264.80px;top:450.75px;font-size:10.8px;line-height:14px;color:#262626;letter-spacing:0.11px;">25-036288-02</span>
<div class="b" style="left:319.00px;top:467.83px;width:1041.30px;height:1.00px;background:#eeeeee;z-index:1"></div>
<div class="b" style="left:319.00px;top:468.33px;width:1041.30px;height:23.78px;background:#ffffff;"></div>
<span class="t" style="left:323.20px;top:474.53px;font-size:10.8px;line-height:14px;color:#262626;">Magnésium (Kg/m3)</span>
<span class="t" style="left:490.50px;top:474.53px;font-size:10.8px;line-height:14px;color:#262626;">kg/m3</span>
<span class="t" style="left:592.20px;top:474.53px;font-size:10.8px;line-height:14px;color:#262626;">0.3400</span>
<svg style="left:661.80px;top:470.92px" width="16" height="18" viewBox="0 0 16 18"><path d="M0.8 0.8 H7 L11 4.6 V14.8 H0.8 Z" fill="#dde1e1"/><path d="M7 0.8 L11 4.6 H7 Z" fill="#c6cbcb"/><path d="M2.2 4 H6 M2.2 6.5 H9.4 M2.2 9 H9.4 M2.2 11.5 H7.4" stroke="#c3c9c9" stroke-width="1"/><circle cx="11.7" cy="14.6" r="2.4" fill="#fff" stroke="#ec7592" stroke-width="0.95"/><path d="M11.7 13.3 V14.8 L12.8 15.3" stroke="#ec7592" stroke-width="0.6" fill="none"/></svg>
<svg style="left:683.00px;top:471.72px" width="17" height="17" viewBox="0 0 17 17"><circle cx="8.5" cy="8.5" r="8.1" fill="#1fac86"/><path d="M8.5 4.2 V12.8 M4.2 8.5 H12.8" stroke="#fff" stroke-width="3"/></svg>
<span class="t" style="left:708.70px;top:474.53px;font-size:10.8px;line-height:14px;color:#262626;letter-spacing:0.19px;">25/03/2025 00:00</span>
<svg style="left:844.60px;top:474.22px" width="16" height="12" viewBox="0 0 16 12"><path d="M0.4 3.4 H8.6 V1 L14.8 6 L8.6 11 V8.6 H0.4 Z" fill="#fb7e12" stroke="#fb7e12" stroke-width="0.8" stroke-linejoin="round"/></svg>
<span class="t" style="left:862.80px;top:474.53px;font-size:10.8px;line-height:14px;color:#262626;letter-spacing:-0.07px;">A stabiliser</span>
<svg style="left:1055.00px;top:474.32px" width="15" height="15" viewBox="0 0 15 15"><g transform="rotate(45 7.5 7.5)"><path d="M-1.2 4.4 H8.6 V1.6 L14.6 7.5 L8.6 13.4 V10.6 H-1.2 Z" fill="#1fb58a"/></g></svg>
<span class="t" style="left:1071.80px;top:474.53px;font-size:10.8px;line-height:14px;color:#262626;">0.4500</span>
<span class="t" style="left:1264.80px;top:474.53px;font-size:10.8px;line-height:14px;color:#262626;letter-spacing:0.11px;">25-036288-01</span>
<div class="b" style="left:319.00px;top:491.61px;width:1041.30px;height:1.00px;background:#eeeeee;z-index:1"></div>
<div class="b" style="left:319.00px;top:492.11px;width:1041.30px;height:23.78px;background:#ffffff;"></div>
<span class="t" style="left:323.20px;top:498.31px;font-size:10.8px;line-height:14px;color:#262626;">Magnesium (MgO)</span>
<span class="t" style="left:490.50px;top:498.31px;font-size:10.8px;line-height:14px;color:#262626;">mg/kg MS</span>
<span class="t" style="left:592.20px;top:498.31px;font-size:10.8px;line-height:14px;color:#262626;">0.5714</span>
<svg style="left:661.80px;top:494.70px" width="16" height="18" viewBox="0 0 16 18"><path d="M0.8 0.8 H7 L11 4.6 V14.8 H0.8 Z" fill="#dde1e1"/><path d="M7 0.8 L11 4.6 H7 Z" fill="#c6cbcb"/><path d="M2.2 4 H6 M2.2 6.5 H9.4 M2.2 9 H9.4 M2.2 11.5 H7.4" stroke="#c3c9c9" stroke-width="1"/><circle cx="11.7" cy="14.6" r="2.4" fill="#fff" stroke="#ec7592" stroke-width="0.95"/><path d="M11.7 13.3 V14.8 L12.8 15.3" stroke="#ec7592" stroke-width="0.6" fill="none"/></svg>
<svg style="left:683.00px;top:495.50px" width="17" height="17" viewBox="0 0 17 17"><circle cx="8.5" cy="8.5" r="8.1" fill="#1fac86"/><path d="M8.5 4.2 V12.8 M4.2 8.5 H12.8" stroke="#fff" stroke-width="3"/></svg>
<span class="t" style="left:708.70px;top:498.31px;font-size:10.8px;line-height:14px;color:#262626;letter-spacing:0.19px;">25/03/2025 00:00</span>
<svg style="left:844.60px;top:498.00px" width="16" height="12" viewBox="0 0 16 12"><path d="M0.4 3.4 H8.6 V1 L14.8 6 L8.6 11 V8.6 H0.4 Z" fill="#fb7e12" stroke="#fb7e12" stroke-width="0.8" stroke-linejoin="round"/></svg>
<span class="t" style="left:862.80px;top:498.31px;font-size:10.8px;line-height:14px;color:#262626;letter-spacing:-0.07px;">A stabiliser</span>
<svg style="left:1055.00px;top:498.10px" width="15" height="15" viewBox="0 0 15 15"><g transform="rotate(45 7.5 7.5)"><path d="M-1.2 4.4 H8.6 V1.6 L14.6 7.5 L8.6 13.4 V10.6 H-1.2 Z" fill="#1fb58a"/></g></svg>
<span class="t" style="left:1071.80px;top:498.31px;font-size:10.8px;line-height:14px;color:#262626;">0.8881</span>
<span class="t" style="left:1264.80px;top:498.31px;font-size:10.8px;line-height:14px;color:#262626;letter-spacing:0.11px;">25-036288-03</span>
<div class="b" style="left:319.00px;top:515.39px;width:1041.30px;height:1.00px;background:#eeeeee;z-index:1"></div>
<div class="b" style="left:319.00px;top:515.89px;width:1041.30px;height:23.78px;background:#ffffff;"></div>
<span class="t" style="left:323.20px;top:522.09px;font-size:10.8px;line-height:14px;color:#262626;">Magnésium (Mg)</span>
<span class="t" style="left:490.50px;top:522.09px;font-size:10.8px;line-height:14px;color:#262626;">mg/kg MS</span>
<span class="t" style="left:592.20px;top:522.09px;font-size:10.8px;line-height:14px;color:#262626;">0.5714</span>
<svg style="left:661.80px;top:518.48px" width="16" height="18" viewBox="0 0 16 18"><path d="M0.8 0.8 H7 L11 4.6 V14.8 H0.8 Z" fill="#dde1e1"/><path d="M7 0.8 L11 4.6 H7 Z" fill="#c6cbcb"/><path d="M2.2 4 H6 M2.2 6.5 H9.4 M2.2 9 H9.4 M2.2 11.5 H7.4" stroke="#c3c9c9" stroke-width="1"/><circle cx="11.7" cy="14.6" r="2.4" fill="#fff" stroke="#ec7592" stroke-width="0.95"/><path d="M11.7 13.3 V14.8 L12.8 15.3" stroke="#ec7592" stroke-width="0.6" fill="none"/></svg>
<svg style="left:683.00px;top:519.28px" width="17" height="17" viewBox="0 0 17 17"><circle cx="8.5" cy="8.5" r="8.1" fill="#1fac86"/><path d="M8.5 4.2 V12.8 M4.2 8.5 H12.8" stroke="#fff" stroke-width="3"/></svg>
<span class="t" style="left:708.70px;top:522.09px;font-size:10.8px;line-height:14px;color:#262626;letter-spacing:0.19px;">25/03/2025 00:00</span>
<svg style="left:844.60px;top:521.78px" width="16" height="12" viewBox="0 0 16 12"><path d="M0.4 3.4 H8.6 V1 L14.8 6 L8.6 11 V8.6 H0.4 Z" fill="#fb7e12" stroke="#fb7e12" stroke-width="0.8" stroke-linejoin="round"/></svg>
<span class="t" style="left:862.80px;top:522.09px;font-size:10.8px;line-height:14px;color:#262626;letter-spacing:-0.07px;">A stabiliser</span>
<svg style="left:1055.00px;top:521.88px" width="15" height="15" viewBox="0 0 15 15"><g transform="rotate(45 7.5 7.5)"><path d="M-1.2 4.4 H8.6 V1.6 L14.6 7.5 L8.6 13.4 V10.6 H-1.2 Z" fill="#1fb58a"/></g></svg>
<span class="t" style="left:1071.80px;top:522.09px;font-size:10.8px;line-height:14px;color:#262626;">0.6444</span>
<span class="t" style="left:1264.80px;top:522.09px;font-size:10.8px;line-height:14px;color:#262626;letter-spacing:0.11px;">25-036288-02</span>
<div class="b" style="left:319.00px;top:539.17px;width:1041.30px;height:1.00px;background:#eeeeee;z-index:1"></div>
<div class="b" style="left:319.00px;top:539.67px;width:1041.30px;height:23.78px;background:#ffffff;"></div>
<span class="t" style="left:323.20px;top:545.87px;font-size:10.8px;line-height:14px;color:#262626;letter-spacing:0.143px;">Potassium (K2O)</span>
<span class="t" style="left:490.50px;top:545.87px;font-size:10.8px;line-height:14px;color:#262626;">mg/kg MS</span>
<span class="t" style="left:592.20px;top:545.87px;font-size:10.8px;line-height:14px;color:#262626;">0.6400</span>
<svg style="left:661.80px;top:542.26px" width="16" height="18" viewBox="0 0 16 18"><path d="M0.8 0.8 H7 L11 4.6 V14.8 H0.8 Z" fill="#dde1e1"/><path d="M7 0.8 L11 4.6 H7 Z" fill="#c6cbcb"/><path d="M2.2 4 H6 M2.2 6.5 H9.4 M2.2 9 H9.4 M2.2 11.5 H7.4" stroke="#c3c9c9" stroke-width="1"/><circle cx="11.7" cy="14.6" r="2.4" fill="#fff" stroke="#ec7592" stroke-width="0.95"/><path d="M11.7 13.3 V14.8 L12.8 15.3" stroke="#ec7592" stroke-width="0.6" fill="none"/></svg>
<svg style="left:683.00px;top:543.06px" width="17" height="17" viewBox="0 0 17 17"><circle cx="8.5" cy="8.5" r="8.1" fill="#1fac86"/><path d="M8.5 4.2 V12.8 M4.2 8.5 H12.8" stroke="#fff" stroke-width="3"/></svg>
<span class="t" style="left:708.70px;top:545.87px;font-size:10.8px;line-height:14px;color:#262626;letter-spacing:0.19px;">25/03/2025 00:00</span>
<svg style="left:844.60px;top:545.56px" width="16" height="12" viewBox="0 0 16 12"><path d="M0.4 3.4 H8.6 V1 L14.8 6 L8.6 11 V8.6 H0.4 Z" fill="#fb7e12" stroke="#fb7e12" stroke-width="0.8" stroke-linejoin="round"/></svg>
<span class="t" style="left:862.80px;top:545.87px;font-size:10.8px;line-height:14px;color:#262626;letter-spacing:-0.07px;">A stabiliser</span>
<svg style="left:1055.00px;top:545.66px" width="15" height="15" viewBox="0 0 15 15"><g transform="rotate(45 7.5 7.5)"><path d="M-1.2 4.4 H8.6 V1.6 L14.6 7.5 L8.6 13.4 V10.6 H-1.2 Z" fill="#1fb58a"/></g></svg>
<span class="t" style="left:1071.80px;top:545.87px;font-size:10.8px;line-height:14px;color:#262626;">0.6404</span>
<span class="t" style="left:1264.80px;top:545.87px;font-size:10.8px;line-height:14px;color:#262626;letter-spacing:0.11px;">25-036288-01</span>
<div class="b" style="left:319.00px;top:562.95px;width:1041.30px;height:1.00px;background:#eeeeee;z-index:1"></div>
<div class="b" style="left:319.00px;top:563.45px;width:1041.30px;height:23.78px;background:#ffffff;"></div>
<span class="t" style="left:323.20px;top:569.65px;font-size:10.8px;line-height:14px;color:#262626;letter-spacing:0.117px;">Potassium (K)</span>
<span class="t" style="left:490.50px;top:569.65px;font-size:10.8px;line-height:14px;color:#262626;">mg/kg MS</span>
<span class="t" style="left:592.20px;top:569.65px;font-size:10.8px;line-height:14px;color:#262626;">27.1000</span>
<svg style="left:661.80px;top:566.04px" width="16" height="18" viewBox="0 0 16 18"><path d="M0.8 0.8 H7 L11 4.6 V14.8 H0.8 Z" fill="#dde1e1"/><path d="M7 0.8 L11 4.6 H7 Z" fill="#c6cbcb"/><path d="M2.2 4 H6 M2.2 6.5 H9.4 M2.2 9 H9.4 M2.2 11.5 H7.4" stroke="#c3c9c9" stroke-width="1"/><circle cx="11.7" cy="14.6" r="2.4" fill="#fff" stroke="#ec7592" stroke-width="0.95"/><path d="M11.7 13.3 V14.8 L12.8 15.3" stroke="#ec7592" stroke-width="0.6" fill="none"/></svg>
<svg style="left:683.00px;top:566.84px" width="17" height="17" viewBox="0 0 17 17"><circle cx="8.5" cy="8.5" r="8.1" fill="#1fac86"/><path d="M8.5 4.2 V12.8 M4.2 8.5 H12.8" stroke="#fff" stroke-width="3"/></svg>
<span class="t" style="left:708.70px;top:569.65px;font-size:10.8px;line-height:14px;color:#262626;letter-spacing:0.19px;">25/03/2025 00:00</span>
<svg style="left:844.60px;top:569.34px" width="16" height="12" viewBox="0 0 16 12"><path d="M0.4 3.4 H8.6 V1 L14.8 6 L8.6 11 V8.6 H0.4 Z" fill="#fb7e12" stroke="#fb7e12" stroke-width="0.8" stroke-linejoin="round"/></svg>
<span class="t" style="left:862.80px;top:569.65px;font-size:10.8px;line-height:14px;color:#262626;letter-spacing:-0.07px;">A stabiliser</span>
<svg style="left:1054.70px;top:566.24px" width="15" height="15" viewBox="0 0 15 15"><g transform="rotate(-45 7.5 7.5)"><path d="M-1.2 4.4 H8.6 V1.6 L14.6 7.5 L8.6 13.4 V10.6 H-1.2 Z" fill="#e9405f"/></g></svg>
<span class="t" style="left:1071.80px;top:569.65px;font-size:10.8px;line-height:14px;color:#262626;">26.2000</span>
<span class="t" style="left:1264.80px;top:569.65px;font-size:10.8px;line-height:14px;color:#262626;letter-spacing:0.11px;">25-036288-03</span>
<div class="b" style="left:319.00px;top:586.73px;width:1041.30px;height:1.00px;background:#eeeeee;z-index:1"></div>
<div class="b" style="left:319.00px;top:587.23px;width:1041.30px;height:23.78px;background:#ffffff;"></div>
<span class="t" style="left:323.20px;top:593.43px;font-size:10.8px;line-height:14px;color:#262626;letter-spacing:-0.071px;">Calcium (Kg/m3)</span>
<span class="t" style="left:490.50px;top:593.43px;font-size:10.8px;line-height:14px;color:#262626;">kg/m3</span>
<span class="t" style="left:592.20px;top:593.43px;font-size:10.8px;line-height:14px;color:#262626;">3.3000</span>
<svg style="left:661.80px;top:589.82px" width="16" height="18" viewBox="0 0 16 18"><path d="M0.8 0.8 H7 L11 4.6 V14.8 H0.8 Z" fill="#dde1e1"/><path d="M7 0.8 L11 4.6 H7 Z" fill="#c6cbcb"/><path d="M2.2 4 H6 M2.2 6.5 H9.4 M2.2 9 H9.4 M2.2 11.5 H7.4" stroke="#c3c9c9" stroke-width="1"/><circle cx="11.7" cy="14.6" r="2.4" fill="#fff" stroke="#ec7592" stroke-width="0.95"/><path d="M11.7 13.3 V14.8 L12.8 15.3" stroke="#ec7592" stroke-width="0.6" fill="none"/></svg>
<svg style="left:683.00px;top:590.62px" width="17" height="17" viewBox="0 0 17 17"><circle cx="8.5" cy="8.5" r="8.1" fill="#1fac86"/><path d="M8.5 4.2 V12.8 M4.2 8.5 H12.8" stroke="#fff" stroke-width="3"/></svg>
<span class="t" style="left:708.70px;top:593.43px;font-size:10.8px;line-height:14px;color:#262626;letter-spacing:0.19px;">25/03/2025 00:00</span>
<svg style="left:844.60px;top:593.12px" width="16" height="12" viewBox="0 0 16 12"><path d="M0.4 3.4 H8.6 V1 L14.8 6 L8.6 11 V8.6 H0.4 Z" fill="#fb7e12" stroke="#fb7e12" stroke-width="0.8" stroke-linejoin="round"/></svg>
<span class="t" style="left:862.80px;top:593.43px;font-size:10.8px;line-height:14px;color:#262626;letter-spacing:-0.07px;">A stabiliser</span>
<svg style="left:1054.70px;top:590.02px" width="15" height="15" viewBox="0 0 15 15"><g transform="rotate(-45 7.5 7.5)"><path d="M-1.2 4.4 H8.6 V1.6 L14.6 7.5 L8.6 13.4 V10.6 H-1.2 Z" fill="#e9405f"/></g></svg>
<span class="t" style="left:1071.80px;top:593.43px;font-size:10.8px;line-height:14px;color:#262626;">2.9000</span>
<span class="t" style="left:1264.80px;top:593.43px;font-size:10.8px;line-height:14px;color:#262626;letter-spacing:0.11px;">25-036288-02</span>
<div class="b" style="left:319.00px;top:610.51px;width:1041.30px;height:1.00px;background:#eeeeee;z-index:1"></div>
<div class="b" style="left:319.00px;top:611.01px;width:1041.30px;height:23.78px;background:#ffffff;"></div>
<span class="t" style="left:323.20px;top:617.21px;font-size:10.8px;line-height:14px;color:#262626;">Calcium (Ca)</span>
<span class="t" style="left:490.50px;top:617.21px;font-size:10.8px;line-height:14px;color:#262626;">mg/kg MS</span>
<span class="t" style="left:592.20px;top:617.21px;font-size:10.8px;line-height:14px;color:#262626;">2.5000</span>
<svg style="left:661.80px;top:613.60px" width="16" height="18" viewBox="0 0 16 18"><path d="M0.8 0.8 H7 L11 4.6 V14.8 H0.8 Z" fill="#dde1e1"/><path d="M7 0.8 L11 4.6 H7 Z" fill="#c6cbcb"/><path d="M2.2 4 H6 M2.2 6.5 H9.4 M2.2 9 H9.4 M2.2 11.5 H7.4" stroke="#c3c9c9" stroke-width="1"/><circle cx="11.7" cy="14.6" r="2.4" fill="#fff" stroke="#ec7592" stroke-width="0.95"/><path d="M11.7 13.3 V14.8 L12.8 15.3" stroke="#ec7592" stroke-width="0.6" fill="none"/></svg>
<svg style="left:683.00px;top:614.40px" width="17" height="17" viewBox="0 0 17 17"><circle cx="8.5" cy="8.5" r="8.1" fill="#1fac86"/><path d="M8.5 4.2 V12.8 M4.2 8.5 H12.8" stroke="#fff" stroke-width="3"/></svg>
<span class="t" style="left:708.70px;top:617.21px;font-size:10.8px;line-height:14px;color:#262626;letter-spacing:0.19px;">25/03/2025 00:00</span>
<svg style="left:844.60px;top:616.90px" width="16" height="12" viewBox="0 0 16 12"><path d="M0.4 3.4 H8.6 V1 L14.8 6 L8.6 11 V8.6 H0.4 Z" fill="#fb7e12" stroke="#fb7e12" stroke-width="0.8" stroke-linejoin="round"/></svg>
<span class="t" style="left:862.80px;top:617.21px;font-size:10.8px;line-height:14px;color:#262626;letter-spacing:-0.07px;">A stabiliser</span>
<svg style="left:1055.00px;top:617.00px" width="15" height="15" viewBox="0 0 15 15"><g transform="rotate(45 7.5 7.5)"><path d="M-1.2 4.4 H8.6 V1.6 L14.6 7.5 L8.6 13.4 V10.6 H-1.2 Z" fill="#1fb58a"/></g></svg>
<span class="t" style="left:1071.80px;top:617.21px;font-size:10.8px;line-height:14px;color:#262626;">5.7000</span>
<span class="t" style="left:1264.80px;top:617.21px;font-size:10.8px;line-height:14px;color:#262626;letter-spacing:0.11px;">25-036288-01</span>
<div class="b" style="left:319.00px;top:634.29px;width:1041.30px;height:1.00px;background:#eeeeee;z-index:1"></div>
<div class="b" style="left:319.00px;top:634.79px;width:1041.30px;height:23.78px;background:#ffffff;"></div>
<span class="t" style="left:323.20px;top:640.99px;font-size:10.8px;line-height:14px;color:#262626;letter-spacing:0.317px;">Phosphore (P)</span>
<span class="t" style="left:490.50px;top:640.99px;font-size:10.8px;line-height:14px;color:#262626;">mg/kg MS</span>
<span class="t" style="left:592.20px;top:640.99px;font-size:10.8px;line-height:14px;color:#262626;">0.3700</span>
<svg style="left:661.80px;top:637.38px" width="16" height="18" viewBox="0 0 16 18"><path d="M0.8 0.8 H7 L11 4.6 V14.8 H0.8 Z" fill="#dde1e1"/><path d="M7 0.8 L11 4.6 H7 Z" fill="#c6cbcb"/><path d="M2.2 4 H6 M2.2 6.5 H9.4 M2.2 9 H9.4 M2.2 11.5 H7.4" stroke="#c3c9c9" stroke-width="1"/><circle cx="11.7" cy="14.6" r="2.4" fill="#fff" stroke="#ec7592" stroke-width="0.95"/><path d="M11.7 13.3 V14.8 L12.8 15.3" stroke="#ec7592" stroke-width="0.6" fill="none"/></svg>
<svg style="left:683.00px;top:638.18px" width="17" height="17" viewBox="0 0 17 17"><circle cx="8.5" cy="8.5" r="8.1" fill="#1fac86"/><path d="M8.5 4.2 V12.8 M4.2 8.5 H12.8" stroke="#fff" stroke-width="3"/></svg>
<span class="t" style="left:708.70px;top:640.99px;font-size:10.8px;line-height:14px;color:#262626;letter-spacing:0.19px;">05/02/2025 00:00</span>
<svg style="left:844.60px;top:640.68px" width="16" height="12" viewBox="0 0 16 12"><path d="M0.4 3.4 H8.6 V1 L14.8 6 L8.6 11 V8.6 H0.4 Z" fill="#fb7e12" stroke="#fb7e12" stroke-width="0.8" stroke-linejoin="round"/></svg>
<span class="t" style="left:862.80px;top:640.99px;font-size:10.8px;line-height:14px;color:#262626;letter-spacing:-0.07px;">A stabiliser</span>
<svg style="left:1054.00px;top:639.88px" width="17" height="13" viewBox="0 0 17 13"><path d="M0.2 3.6 H10.2 V0.6 L15.6 6.4 L10.2 12.2 V9.2 H0.2 Z" fill="#4a8cc6"/></svg>
<span class="t" style="left:1071.80px;top:640.99px;font-size:10.8px;line-height:14px;color:#262626;">0.3700</span>
<span class="t" style="left:1264.80px;top:640.99px;font-size:10.8px;line-height:14px;color:#262626;letter-spacing:0.11px;">25-012688-01-1</span>
<div class="b" style="left:319.00px;top:658.07px;width:1041.30px;height:1.00px;background:#eeeeee;z-index:1"></div>
<div class="b" style="left:319.00px;top:658.57px;width:1041.30px;height:23.78px;background:#ffffff;"></div>
<span class="t" style="left:323.20px;top:664.77px;font-size:10.8px;line-height:14px;color:#262626;">Potassium (Kg/m3)</span>
<span class="t" style="left:490.50px;top:664.77px;font-size:10.8px;line-height:14px;color:#262626;">kg/m3</span>
<span class="t" style="left:592.20px;top:664.77px;font-size:10.8px;line-height:14px;color:#262626;">0.6735</span>
<svg style="left:661.80px;top:661.16px" width="16" height="18" viewBox="0 0 16 18"><path d="M0.8 0.8 H7 L11 4.6 V14.8 H0.8 Z" fill="#dde1e1"/><path d="M7 0.8 L11 4.6 H7 Z" fill="#c6cbcb"/><path d="M2.2 4 H6 M2.2 6.5 H9.4 M2.2 9 H9.4 M2.2 11.5 H7.4" stroke="#c3c9c9" stroke-width="1"/><circle cx="11.7" cy="14.6" r="2.4" fill="#fff" stroke="#ec7592" stroke-width="0.95"/><path d="M11.7 13.3 V14.8 L12.8 15.3" stroke="#ec7592" stroke-width="0.6" fill="none"/></svg>
<svg style="left:683.00px;top:661.96px" width="17" height="17" viewBox="0 0 17 17"><circle cx="8.5" cy="8.5" r="8.1" fill="#1fac86"/><path d="M8.5 4.2 V12.8 M4.2 8.5 H12.8" stroke="#fff" stroke-width="3"/></svg>
<span class="t" style="left:708.70px;top:664.77px;font-size:10.8px;line-height:14px;color:#262626;letter-spacing:0.19px;">05/02/2025 00:00</span>
<svg style="left:844.60px;top:664.46px" width="16" height="12" viewBox="0 0 16 12"><path d="M0.4 3.4 H8.6 V1 L14.8 6 L8.6 11 V8.6 H0.4 Z" fill="#fb7e12" stroke="#fb7e12" stroke-width="0.8" stroke-linejoin="round"/></svg>
<span class="t" style="left:862.80px;top:664.77px;font-size:10.8px;line-height:14px;color:#262626;letter-spacing:-0.07px;">A stabiliser</span>
<svg style="left:1054.00px;top:663.66px" width="17" height="13" viewBox="0 0 17 13"><path d="M0.2 3.6 H10.2 V0.6 L15.6 6.4 L10.2 12.2 V9.2 H0.2 Z" fill="#4a8cc6"/></svg>
<span class="t" style="left:1071.80px;top:664.77px;font-size:10.8px;line-height:14px;color:#262626;">0.6735</span>
<span class="t" style="left:1264.80px;top:664.77px;font-size:10.8px;line-height:14px;color:#262626;letter-spacing:0.11px;">25-012688-01-1</span>
<div class="b" style="left:319.00px;top:681.85px;width:1041.30px;height:1.00px;background:#eeeeee;z-index:1"></div>
<div class="b" style="left:319.00px;top:682.35px;width:1041.30px;height:23.78px;background:#ffffff;"></div>
<span class="t" style="left:323.20px;top:688.55px;font-size:10.8px;line-height:14px;color:#262626;">Calcium (CaO)</span>
<span class="t" style="left:490.50px;top:688.55px;font-size:10.8px;line-height:14px;color:#262626;">mg/kg MS</span>
<span class="t" style="left:592.20px;top:688.55px;font-size:10.8px;line-height:14px;color:#262626;">3.3000</span>
<svg style="left:661.80px;top:684.94px" width="16" height="18" viewBox="0 0 16 18"><path d="M0.8 0.8 H7 L11 4.6 V14.8 H0.8 Z" fill="#dde1e1"/><path d="M7 0.8 L11 4.6 H7 Z" fill="#c6cbcb"/><path d="M2.2 4 H6 M2.2 6.5 H9.4 M2.2 9 H9.4 M2.2 11.5 H7.4" stroke="#c3c9c9" stroke-width="1"/><circle cx="11.7" cy="14.6" r="2.4" fill="#fff" stroke="#ec7592" stroke-width="0.95"/><path d="M11.7 13.3 V14.8 L12.8 15.3" stroke="#ec7592" stroke-width="0.6" fill="none"/></svg>
<svg style="left:683.00px;top:685.74px" width="17" height="17" viewBox="0 0 17 17"><circle cx="8.5" cy="8.5" r="8.1" fill="#1fac86"/><path d="M8.5 4.2 V12.8 M4.2 8.5 H12.8" stroke="#fff" stroke-width="3"/></svg>
<span class="t" style="left:708.70px;top:688.55px;font-size:10.8px;line-height:14px;color:#262626;letter-spacing:0.19px;">05/02/2025 00:00</span>
<svg style="left:844.60px;top:688.24px" width="16" height="12" viewBox="0 0 16 12"><path d="M0.4 3.4 H8.6 V1 L14.8 6 L8.6 11 V8.6 H0.4 Z" fill="#fb7e12" stroke="#fb7e12" stroke-width="0.8" stroke-linejoin="round"/></svg>
<span class="t" style="left:862.80px;top:688.55px;font-size:10.8px;line-height:14px;color:#262626;letter-spacing:-0.07px;">A stabiliser</span>
<svg style="left:1054.00px;top:687.44px" width="17" height="13" viewBox="0 0 17 13"><path d="M0.2 3.6 H10.2 V0.6 L15.6 6.4 L10.2 12.2 V9.2 H0.2 Z" fill="#4a8cc6"/></svg>
<span class="t" style="left:1071.80px;top:688.55px;font-size:10.8px;line-height:14px;color:#262626;">3.3000</span>
<span class="t" style="left:1264.80px;top:688.55px;font-size:10.8px;line-height:14px;color:#262626;letter-spacing:0.11px;">25-012688-01-1</span>
<div class="b" style="left:319.00px;top:705.63px;width:1041.30px;height:1.00px;background:#eeeeee;z-index:1"></div>
<div class="b" style="left:319.00px;top:706.13px;width:1041.30px;height:24.75px;background:#f8f8f8;"></div>
<div class="b" style="left:319.00px;top:730.38px;width:1041.30px;height:1.00px;background:#eeeeee;z-index:1"></div>
<svg style="left:328.20px;top:716.30px" width="11" height="8" viewBox="0 0 11 8"><path d="M1 1.6 L5.5 6.2 L10 1.6" fill="none" stroke="#444" stroke-width="1.3"/></svg>
<span class="t" style="left:347.40px;top:712.82px;font-size:10.8px;line-height:14px;color:#1c1c1c;font-weight:bold;letter-spacing:0.4px;-webkit-text-stroke:0.25px #1c1c1c;">Type donnée bio: 04- Métaux lourds</span>
<div class="b" style="left:319.00px;top:730.88px;width:1041.30px;height:23.78px;background:#ffffff;"></div>
<span class="t" style="left:323.20px;top:737.08px;font-size:10.8px;line-height:14px;color:#262626;letter-spacing:0.34px;">Soufre (S).</span>
<span class="t" style="left:490.50px;top:737.08px;font-size:10.8px;line-height:14px;color:#262626;">mg/kg MS</span>
<span class="t" style="left:592.20px;top:737.08px;font-size:10.8px;line-height:14px;color:#262626;">30000.0000</span>
<svg style="left:661.80px;top:733.47px" width="16" height="18" viewBox="0 0 16 18"><path d="M0.8 0.8 H7 L11 4.6 V14.8 H0.8 Z" fill="#dde1e1"/><path d="M7 0.8 L11 4.6 H7 Z" fill="#c6cbcb"/><path d="M2.2 4 H6 M2.2 6.5 H9.4 M2.2 9 H9.4 M2.2 11.5 H7.4" stroke="#c3c9c9" stroke-width="1"/><circle cx="11.7" cy="14.6" r="2.4" fill="#fff" stroke="#ec7592" stroke-width="0.95"/><path d="M11.7 13.3 V14.8 L12.8 15.3" stroke="#ec7592" stroke-width="0.6" fill="none"/></svg>
<svg style="left:683.00px;top:734.27px" width="17" height="17" viewBox="0 0 17 17"><circle cx="8.5" cy="8.5" r="8.1" fill="#1fac86"/><path d="M8.5 4.2 V12.8 M4.2 8.5 H12.8" stroke="#fff" stroke-width="3"/></svg>
<span class="t" style="left:708.70px;top:737.08px;font-size:10.8px;line-height:14px;color:#262626;letter-spacing:0.19px;">25/03/2025 00:00</span>
<svg style="left:844.60px;top:736.77px" width="16" height="12" viewBox="0 0 16 12"><path d="M0.4 3.4 H8.6 V1 L14.8 6 L8.6 11 V8.6 H0.4 Z" fill="#fb7e12" stroke="#fb7e12" stroke-width="0.8" stroke-linejoin="round"/></svg>
<span class="t" style="left:862.80px;top:737.08px;font-size:10.8px;line-height:14px;color:#262626;letter-spacing:-0.07px;">A stabiliser</span>
<svg style="left:1055.00px;top:736.87px" width="15" height="15" viewBox="0 0 15 15"><g transform="rotate(45 7.5 7.5)"><path d="M-1.2 4.4 H8.6 V1.6 L14.6 7.5 L8.6 13.4 V10.6 H-1.2 Z" fill="#1fb58a"/></g></svg>
<span class="t" style="left:1071.80px;top:737.08px;font-size:10.8px;line-height:14px;color:#262626;">38000.0000</span>
<span class="t" style="left:1264.80px;top:737.08px;font-size:10.8px;line-height:14px;color:#262626;letter-spacing:0.11px;">25-036288-01</span>
<div class="b" style="left:319.00px;top:754.16px;width:1041.30px;height:1.00px;background:#eeeeee;z-index:1"></div>
<div class="b" style="left:319.00px;top:754.66px;width:1041.30px;height:23.78px;background:#ffffff;"></div>
<span class="t" style="left:323.20px;top:760.86px;font-size:10.8px;line-height:14px;color:#262626;">Zinc (Zn)</span>
<span class="t" style="left:490.50px;top:760.86px;font-size:10.8px;line-height:14px;color:#262626;">mg/kg MS</span>
<span class="t" style="left:592.20px;top:760.86px;font-size:10.8px;line-height:14px;color:#262626;">14000.0000</span>
<svg style="left:661.80px;top:757.25px" width="16" height="18" viewBox="0 0 16 18"><path d="M0.8 0.8 H7 L11 4.6 V14.8 H0.8 Z" fill="#dde1e1"/><path d="M7 0.8 L11 4.6 H7 Z" fill="#c6cbcb"/><path d="M2.2 4 H6 M2.2 6.5 H9.4 M2.2 9 H9.4 M2.2 11.5 H7.4" stroke="#c3c9c9" stroke-width="1"/><circle cx="11.7" cy="14.6" r="2.4" fill="#fff" stroke="#ec7592" stroke-width="0.95"/><path d="M11.7 13.3 V14.8 L12.8 15.3" stroke="#ec7592" stroke-width="0.6" fill="none"/></svg>
<svg style="left:683.00px;top:758.05px" width="17" height="17" viewBox="0 0 17 17"><circle cx="8.5" cy="8.5" r="8.1" fill="#1fac86"/><path d="M8.5 4.2 V12.8 M4.2 8.5 H12.8" stroke="#fff" stroke-width="3"/></svg>
<span class="t" style="left:708.70px;top:760.86px;font-size:10.8px;line-height:14px;color:#262626;letter-spacing:0.19px;">25/03/2025 00:00</span>
<svg style="left:844.60px;top:760.55px" width="16" height="12" viewBox="0 0 16 12"><path d="M0.4 3.4 H8.6 V1 L14.8 6 L8.6 11 V8.6 H0.4 Z" fill="#fb7e12" stroke="#fb7e12" stroke-width="0.8" stroke-linejoin="round"/></svg>
<span class="t" style="left:862.80px;top:760.86px;font-size:10.8px;line-height:14px;color:#262626;letter-spacing:-0.07px;">A stabiliser</span>
<svg style="left:1054.70px;top:757.45px" width="15" height="15" viewBox="0 0 15 15"><g transform="rotate(-45 7.5 7.5)"><path d="M-1.2 4.4 H8.6 V1.6 L14.6 7.5 L8.6 13.4 V10.6 H-1.2 Z" fill="#e9405f"/></g></svg>
<span class="t" style="left:1071.80px;top:760.86px;font-size:10.8px;line-height:14px;color:#262626;">13000.0000</span>
<span class="t" style="left:1264.80px;top:760.86px;font-size:10.8px;line-height:14px;color:#262626;letter-spacing:0.11px;">25-036288-03</span>
<div class="b" style="left:319.00px;top:777.94px;width:1041.30px;height:1.00px;background:#eeeeee;z-index:1"></div>
<div class="b" style="left:319.00px;top:778.44px;width:1041.30px;height:23.78px;background:#ffffff;"></div>
<span class="t" style="left:323.20px;top:784.64px;font-size:10.8px;line-height:14px;color:#262626;">Plomb (Pb)</span>
<span class="t" style="left:490.50px;top:784.64px;font-size:10.8px;line-height:14px;color:#262626;">mg/kg MS</span>
<span class="t" style="left:592.20px;top:784.64px;font-size:10.8px;line-height:14px;color:#262626;">21000.0000</span>
<svg style="left:661.80px;top:781.03px" width="16" height="18" viewBox="0 0 16 18"><path d="M0.8 0.8 H7 L11 4.6 V14.8 H0.8 Z" fill="#dde1e1"/><path d="M7 0.8 L11 4.6 H7 Z" fill="#c6cbcb"/><path d="M2.2 4 H6 M2.2 6.5 H9.4 M2.2 9 H9.4 M2.2 11.5 H7.4" stroke="#c3c9c9" stroke-width="1"/><circle cx="11.7" cy="14.6" r="2.4" fill="#fff" stroke="#ec7592" stroke-width="0.95"/><path d="M11.7 13.3 V14.8 L12.8 15.3" stroke="#ec7592" stroke-width="0.6" fill="none"/></svg>
<svg style="left:683.00px;top:781.83px" width="17" height="17" viewBox="0 0 17 17"><circle cx="8.5" cy="8.5" r="8.1" fill="#1fac86"/><path d="M8.5 4.2 V12.8 M4.2 8.5 H12.8" stroke="#fff" stroke-width="3"/></svg>
<span class="t" style="left:708.70px;top:784.64px;font-size:10.8px;line-height:14px;color:#262626;letter-spacing:0.19px;">25/03/2025 00:00</span>
<svg style="left:844.60px;top:784.33px" width="16" height="12" viewBox="0 0 16 12"><path d="M0.4 3.4 H8.6 V1 L14.8 6 L8.6 11 V8.6 H0.4 Z" fill="#fb7e12" stroke="#fb7e12" stroke-width="0.8" stroke-linejoin="round"/></svg>
<span class="t" style="left:862.80px;top:784.64px;font-size:10.8px;line-height:14px;color:#262626;letter-spacing:-0.07px;">A stabiliser</span>
<svg style="left:1055.00px;top:784.43px" width="15" height="15" viewBox="0 0 15 15"><g transform="rotate(45 7.5 7.5)"><path d="M-1.2 4.4 H8.6 V1.6 L14.6 7.5 L8.6 13.4 V10.6 H-1.2 Z" fill="#1fb58a"/></g></svg>
<span class="t" style="left:1071.80px;top:784.64px;font-size:10.8px;line-height:14px;color:#262626;">27000.0000</span>
<span class="t" style="left:1264.80px;top:784.64px;font-size:10.8px;line-height:14px;color:#262626;letter-spacing:0.11px;">25-036288-01</span>
<div class="b" style="left:319.00px;top:801.72px;width:1041.30px;height:1.00px;background:#eeeeee;z-index:1"></div>
<div class="b" style="left:319.00px;top:802.22px;width:1041.30px;height:23.78px;background:#ffffff;"></div>
<span class="t" style="left:323.20px;top:808.42px;font-size:10.8px;line-height:14px;color:#262626;letter-spacing:-0.1px;">Nickel (Ni)</span>
<span class="t" style="left:490.50px;top:808.42px;font-size:10.8px;line-height:14px;color:#262626;">mg/kg MS</span>
<span class="t" style="left:592.20px;top:808.42px;font-size:10.8px;line-height:14px;color:#262626;">18.3000</span>
<svg style="left:661.80px;top:804.81px" width="16" height="18" viewBox="0 0 16 18"><path d="M0.8 0.8 H7 L11 4.6 V14.8 H0.8 Z" fill="#dde1e1"/><path d="M7 0.8 L11 4.6 H7 Z" fill="#c6cbcb"/><path d="M2.2 4 H6 M2.2 6.5 H9.4 M2.2 9 H9.4 M2.2 11.5 H7.4" stroke="#c3c9c9" stroke-width="1"/><circle cx="11.7" cy="14.6" r="2.4" fill="#fff" stroke="#ec7592" stroke-width="0.95"/><path d="M11.7 13.3 V14.8 L12.8 15.3" stroke="#ec7592" stroke-width="0.6" fill="none"/></svg>
<svg style="left:683.00px;top:805.61px" width="17" height="17" viewBox="0 0 17 17"><circle cx="8.5" cy="8.5" r="8.1" fill="#1fac86"/><path d="M8.5 4.2 V12.8 M4.2 8.5 H12.8" stroke="#fff" stroke-width="3"/></svg>
<span class="t" style="left:708.70px;top:808.42px;font-size:10.8px;line-height:14px;color:#262626;letter-spacing:0.19px;">25/03/2025 00:00</span>
<svg style="left:844.60px;top:808.11px" width="16" height="12" viewBox="0 0 16 12"><path d="M0.4 3.4 H8.6 V1 L14.8 6 L8.6 11 V8.6 H0.4 Z" fill="#fb7e12" stroke="#fb7e12" stroke-width="0.8" stroke-linejoin="round"/></svg>
<span class="t" style="left:862.80px;top:808.42px;font-size:10.8px;line-height:14px;color:#262626;letter-spacing:-0.07px;">A stabiliser</span>
<svg style="left:1055.00px;top:808.21px" width="15" height="15" viewBox="0 0 15 15"><g transform="rotate(45 7.5 7.5)"><path d="M-1.2 4.4 H8.6 V1.6 L14.6 7.5 L8.6 13.4 V10.6 H-1.2 Z" fill="#1fb58a"/></g></svg>
<span class="t" style="left:1071.80px;top:808.42px;font-size:10.8px;line-height:14px;color:#262626;">20.2782</span>
<span class="t" style="left:1264.80px;top:808.42px;font-size:10.8px;line-height:14px;color:#262626;letter-spacing:0.11px;">25-036288-03</span>
<div class="b" style="left:319.00px;top:825.50px;width:1041.30px;height:1.00px;background:#eeeeee;z-index:1"></div>
<div class="b" style="left:319.00px;top:826.00px;width:1041.30px;height:23.78px;background:#ffffff;"></div>
<span class="t" style="left:323.20px;top:832.20px;font-size:10.8px;line-height:14px;color:#262626;letter-spacing:0.154px;">Molybdène (Mo)</span>
<span class="t" style="left:490.50px;top:832.20px;font-size:10.8px;line-height:14px;color:#262626;">mg/kg MS</span>
<span class="t" style="left:592.20px;top:832.20px;font-size:10.8px;line-height:14px;color:#262626;">4.9474</span>
<svg style="left:661.80px;top:828.59px" width="16" height="18" viewBox="0 0 16 18"><path d="M0.8 0.8 H7 L11 4.6 V14.8 H0.8 Z" fill="#dde1e1"/><path d="M7 0.8 L11 4.6 H7 Z" fill="#c6cbcb"/><path d="M2.2 4 H6 M2.2 6.5 H9.4 M2.2 9 H9.4 M2.2 11.5 H7.4" stroke="#c3c9c9" stroke-width="1"/><circle cx="11.7" cy="14.6" r="2.4" fill="#fff" stroke="#ec7592" stroke-width="0.95"/><path d="M11.7 13.3 V14.8 L12.8 15.3" stroke="#ec7592" stroke-width="0.6" fill="none"/></svg>
<svg style="left:683.00px;top:829.39px" width="17" height="17" viewBox="0 0 17 17"><circle cx="8.5" cy="8.5" r="8.1" fill="#1fac86"/><path d="M8.5 4.2 V12.8 M4.2 8.5 H12.8" stroke="#fff" stroke-width="3"/></svg>
<span class="t" style="left:708.70px;top:832.20px;font-size:10.8px;line-height:14px;color:#262626;letter-spacing:0.19px;">25/03/2025 00:00</span>
<svg style="left:844.60px;top:831.89px" width="16" height="12" viewBox="0 0 16 12"><path d="M0.4 3.4 H8.6 V1 L14.8 6 L8.6 11 V8.6 H0.4 Z" fill="#fb7e12" stroke="#fb7e12" stroke-width="0.8" stroke-linejoin="round"/></svg>
<span class="t" style="left:862.80px;top:832.20px;font-size:10.8px;line-height:14px;color:#262626;letter-spacing:-0.07px;">A stabiliser</span>
<svg style="left:1054.70px;top:828.79px" width="15" height="15" viewBox="0 0 15 15"><g transform="rotate(-45 7.5 7.5)"><path d="M-1.2 4.4 H8.6 V1.6 L14.6 7.5 L8.6 13.4 V10.6 H-1.2 Z" fill="#e9405f"/></g></svg>
<span class="t" style="left:1071.80px;top:832.20px;font-size:10.8px;line-height:14px;color:#262626;">4.3714</span>
<span class="t" style="left:1264.80px;top:832.20px;font-size:10.8px;line-height:14px;color:#262626;letter-spacing:0.11px;">25-036288-02</span>
<div class="b" style="left:319.00px;top:849.28px;width:1041.30px;height:1.00px;background:#eeeeee;z-index:1"></div>
<div class="b" style="left:319.00px;top:849.78px;width:1041.30px;height:23.78px;background:#ffffff;"></div>
<span class="t" style="left:323.20px;top:855.98px;font-size:10.8px;line-height:14px;color:#262626;letter-spacing:0.714px;">Fer (Fe)</span>
<span class="t" style="left:490.50px;top:855.98px;font-size:10.8px;line-height:14px;color:#262626;">mg/kg MS</span>
<span class="t" style="left:592.20px;top:855.98px;font-size:10.8px;line-height:14px;color:#262626;">2.8706</span>
<svg style="left:661.80px;top:852.37px" width="16" height="18" viewBox="0 0 16 18"><path d="M0.8 0.8 H7 L11 4.6 V14.8 H0.8 Z" fill="#dde1e1"/><path d="M7 0.8 L11 4.6 H7 Z" fill="#c6cbcb"/><path d="M2.2 4 H6 M2.2 6.5 H9.4 M2.2 9 H9.4 M2.2 11.5 H7.4" stroke="#c3c9c9" stroke-width="1"/><circle cx="11.7" cy="14.6" r="2.4" fill="#fff" stroke="#ec7592" stroke-width="0.95"/><path d="M11.7 13.3 V14.8 L12.8 15.3" stroke="#ec7592" stroke-width="0.6" fill="none"/></svg>
<svg style="left:683.00px;top:853.17px" width="17" height="17" viewBox="0 0 17 17"><circle cx="8.5" cy="8.5" r="8.1" fill="#1fac86"/><path d="M8.5 4.2 V12.8 M4.2 8.5 H12.8" stroke="#fff" stroke-width="3"/></svg>
<span class="t" style="left:708.70px;top:855.98px;font-size:10.8px;line-height:14px;color:#262626;letter-spacing:0.19px;">25/03/2025 00:00</span>
<svg style="left:844.60px;top:855.67px" width="16" height="12" viewBox="0 0 16 12"><path d="M0.4 3.4 H8.6 V1 L14.8 6 L8.6 11 V8.6 H0.4 Z" fill="#fb7e12" stroke="#fb7e12" stroke-width="0.8" stroke-linejoin="round"/></svg>
<span class="t" style="left:862.80px;top:855.98px;font-size:10.8px;line-height:14px;color:#262626;letter-spacing:-0.07px;">A stabiliser</span>
<svg style="left:1055.00px;top:855.77px" width="15" height="15" viewBox="0 0 15 15"><g transform="rotate(45 7.5 7.5)"><path d="M-1.2 4.4 H8.6 V1.6 L14.6 7.5 L8.6 13.4 V10.6 H-1.2 Z" fill="#1fb58a"/></g></svg>
<span class="t" style="left:1071.80px;top:855.98px;font-size:10.8px;line-height:14px;color:#262626;">6.2222</span>
<span class="t" style="left:1264.80px;top:855.98px;font-size:10.8px;line-height:14px;color:#262626;letter-spacing:0.11px;">25-036288-01</span>
<div class="b" style="left:319.00px;top:873.06px;width:1041.30px;height:1.00px;background:#eeeeee;z-index:1"></div>
<div class="b" style="left:319.00px;top:873.56px;width:1041.30px;height:23.78px;background:#ffffff;"></div>
<span class="t" style="left:323.20px;top:879.76px;font-size:10.8px;line-height:14px;color:#262626;">Étain (Sn)</span>
<span class="t" style="left:490.50px;top:879.76px;font-size:10.8px;line-height:14px;color:#262626;">mg/kg MS</span>
<span class="t" style="left:592.20px;top:879.76px;font-size:10.8px;line-height:14px;color:#262626;">11.9200</span>
<svg style="left:661.80px;top:876.15px" width="16" height="18" viewBox="0 0 16 18"><path d="M0.8 0.8 H7 L11 4.6 V14.8 H0.8 Z" fill="#dde1e1"/><path d="M7 0.8 L11 4.6 H7 Z" fill="#c6cbcb"/><path d="M2.2 4 H6 M2.2 6.5 H9.4 M2.2 9 H9.4 M2.2 11.5 H7.4" stroke="#c3c9c9" stroke-width="1"/><circle cx="11.7" cy="14.6" r="2.4" fill="#fff" stroke="#ec7592" stroke-width="0.95"/><path d="M11.7 13.3 V14.8 L12.8 15.3" stroke="#ec7592" stroke-width="0.6" fill="none"/></svg>
<svg style="left:683.00px;top:876.95px" width="17" height="17" viewBox="0 0 17 17"><circle cx="8.5" cy="8.5" r="8.1" fill="#1fac86"/><path d="M8.5 4.2 V12.8 M4.2 8.5 H12.8" stroke="#fff" stroke-width="3"/></svg>
<span class="t" style="left:708.70px;top:879.76px;font-size:10.8px;line-height:14px;color:#262626;letter-spacing:0.19px;">25/03/2025 00:00</span>
<svg style="left:844.60px;top:879.45px" width="16" height="12" viewBox="0 0 16 12"><path d="M0.4 3.4 H8.6 V1 L14.8 6 L8.6 11 V8.6 H0.4 Z" fill="#fb7e12" stroke="#fb7e12" stroke-width="0.8" stroke-linejoin="round"/></svg>
<span class="t" style="left:862.80px;top:879.76px;font-size:10.8px;line-height:14px;color:#262626;letter-spacing:-0.07px;">A stabiliser</span>
<svg style="left:1055.00px;top:879.55px" width="15" height="15" viewBox="0 0 15 15"><g transform="rotate(45 7.5 7.5)"><path d="M-1.2 4.4 H8.6 V1.6 L14.6 7.5 L8.6 13.4 V10.6 H-1.2 Z" fill="#1fb58a"/></g></svg>
<span class="t" style="left:1071.80px;top:879.76px;font-size:10.8px;line-height:14px;color:#262626;">12.3900</span>
<span class="t" style="left:1264.80px;top:879.76px;font-size:10.8px;line-height:14px;color:#262626;letter-spacing:0.11px;">25-036288-03</span>
<div class="b" style="left:319.00px;top:896.84px;width:1041.30px;height:1.00px;background:#eeeeee;z-index:1"></div>
<div class="b" style="left:319.00px;top:897.34px;width:1041.30px;height:23.78px;background:#ffffff;"></div>
<span class="t" style="left:323.20px;top:903.54px;font-size:10.8px;line-height:14px;color:#262626;letter-spacing:0.3px;">Cuivre (Cu)</span>
<span class="t" style="left:490.50px;top:903.54px;font-size:10.8px;line-height:14px;color:#262626;">mg/kg MS</span>
<span class="t" style="left:592.20px;top:903.54px;font-size:10.8px;line-height:14px;color:#262626;">1.8800</span>
<svg style="left:661.80px;top:899.93px" width="16" height="18" viewBox="0 0 16 18"><path d="M0.8 0.8 H7 L11 4.6 V14.8 H0.8 Z" fill="#dde1e1"/><path d="M7 0.8 L11 4.6 H7 Z" fill="#c6cbcb"/><path d="M2.2 4 H6 M2.2 6.5 H9.4 M2.2 9 H9.4 M2.2 11.5 H7.4" stroke="#c3c9c9" stroke-width="1"/><circle cx="11.7" cy="14.6" r="2.4" fill="#fff" stroke="#ec7592" stroke-width="0.95"/><path d="M11.7 13.3 V14.8 L12.8 15.3" stroke="#ec7592" stroke-width="0.6" fill="none"/></svg>
<svg style="left:683.00px;top:900.73px" width="17" height="17" viewBox="0 0 17 17"><circle cx="8.5" cy="8.5" r="8.1" fill="#1fac86"/><path d="M8.5 4.2 V12.8 M4.2 8.5 H12.8" stroke="#fff" stroke-width="3"/></svg>
<span class="t" style="left:708.70px;top:903.54px;font-size:10.8px;line-height:14px;color:#262626;letter-spacing:0.19px;">25/03/2025 00:00</span>
<svg style="left:844.60px;top:903.23px" width="16" height="12" viewBox="0 0 16 12"><path d="M0.4 3.4 H8.6 V1 L14.8 6 L8.6 11 V8.6 H0.4 Z" fill="#fb7e12" stroke="#fb7e12" stroke-width="0.8" stroke-linejoin="round"/></svg>
<span class="t" style="left:862.80px;top:903.54px;font-size:10.8px;line-height:14px;color:#262626;letter-spacing:-0.07px;">A stabiliser</span>
<svg style="left:1054.70px;top:900.13px" width="15" height="15" viewBox="0 0 15 15"><g transform="rotate(-45 7.5 7.5)"><path d="M-1.2 4.4 H8.6 V1.6 L14.6 7.5 L8.6 13.4 V10.6 H-1.2 Z" fill="#e9405f"/></g></svg>
<span class="t" style="left:1071.80px;top:903.54px;font-size:10.8px;line-height:14px;color:#262626;">1.5300</span>
<span class="t" style="left:1264.80px;top:903.54px;font-size:10.8px;line-height:14px;color:#262626;letter-spacing:0.11px;">25-036288-02</span>
<div class="b" style="left:319.00px;top:920.62px;width:1041.30px;height:1.00px;background:#eeeeee;z-index:1"></div>
<div class="b" style="left:486.50px;top:157.25px;width:1.00px;height:95.12px;background:rgba(0,0,0,0.05);"></div>
<div class="b" style="left:587.50px;top:157.25px;width:1.00px;height:95.12px;background:rgba(0,0,0,0.05);"></div>
<div class="b" style="left:703.80px;top:157.25px;width:1.00px;height:95.12px;background:rgba(0,0,0,0.05);"></div>
<div class="b" style="left:842.30px;top:157.25px;width:1.00px;height:95.12px;background:rgba(0,0,0,0.05);"></div>
<div class="b" style="left:959.50px;top:157.25px;width:1.00px;height:95.12px;background:rgba(0,0,0,0.05);"></div>
<div class="b" style="left:1051.70px;top:157.25px;width:1.00px;height:95.12px;background:rgba(0,0,0,0.05);"></div>
<div class="b" style="left:1158.20px;top:157.25px;width:1.00px;height:95.12px;background:rgba(0,0,0,0.05);"></div>
<div class="b" style="left:1260.00px;top:157.25px;width:1.00px;height:95.12px;background:rgba(0,0,0,0.05);"></div>
<div class="b" style="left:1359.80px;top:157.25px;width:1.00px;height:95.12px;background:rgba(0,0,0,0.05);"></div>
<div class="b" style="left:486.50px;top:277.12px;width:1.00px;height:95.12px;background:rgba(0,0,0,0.05);"></div>
<div class="b" style="left:587.50px;top:277.12px;width:1.00px;height:95.12px;background:rgba(0,0,0,0.05);"></div>
<div class="b" style="left:703.80px;top:277.12px;width:1.00px;height:95.12px;background:rgba(0,0,0,0.05);"></div>
<div class="b" style="left:842.30px;top:277.12px;width:1.00px;height:95.12px;background:rgba(0,0,0,0.05);"></div>
<div class="b" style="left:959.50px;top:277.12px;width:1.00px;height:95.12px;background:rgba(0,0,0,0.05);"></div>
<div class="b" style="left:1051.70px;top:277.12px;width:1.00px;height:95.12px;background:rgba(0,0,0,0.05);"></div>
<div class="b" style="left:1158.20px;top:277.12px;width:1.00px;height:95.12px;background:rgba(0,0,0,0.05);"></div>
<div class="b" style="left:1260.00px;top:277.12px;width:1.00px;height:95.12px;background:rgba(0,0,0,0.05);"></div>
<div class="b" style="left:1359.80px;top:277.12px;width:1.00px;height:95.12px;background:rgba(0,0,0,0.05);"></div>
<div class="b" style="left:486.50px;top:396.99px;width:1.00px;height:309.14px;background:rgba(0,0,0,0.05);"></div>
<div class="b" style="left:587.50px;top:396.99px;width:1.00px;height:309.14px;background:rgba(0,0,0,0.05);"></div>
<div class="b" style="left:703.80px;top:396.99px;width:1.00px;height:309.14px;background:rgba(0,0,0,0.05);"></div>
<div class="b" style="left:842.30px;top:396.99px;width:1.00px;height:309.14px;background:rgba(0,0,0,0.05);"></div>
<div class="b" style="left:959.50px;top:396.99px;width:1.00px;height:309.14px;background:rgba(0,0,0,0.05);"></div>
<div class="b" style="left:1051.70px;top:396.99px;width:1.00px;height:309.14px;background:rgba(0,0,0,0.05);"></div>
<div class="b" style="left:1158.20px;top:396.99px;width:1.00px;height:309.14px;background:rgba(0,0,0,0.05);"></div>
<div class="b" style="left:1260.00px;top:396.99px;width:1.00px;height:309.14px;background:rgba(0,0,0,0.05);"></div>
<div class="b" style="left:1359.80px;top:396.99px;width:1.00px;height:309.14px;background:rgba(0,0,0,0.05);"></div>
<div class="b" style="left:486.50px;top:730.88px;width:1.00px;height:190.24px;background:rgba(0,0,0,0.05);"></div>
<div class="b" style="left:587.50px;top:730.88px;width:1.00px;height:190.24px;background:rgba(0,0,0,0.05);"></div>
<div class="b" style="left:703.80px;top:730.88px;width:1.00px;height:190.24px;background:rgba(0,0,0,0.05);"></div>
<div class="b" style="left:842.30px;top:730.88px;width:1.00px;height:190.24px;background:rgba(0,0,0,0.05);"></div>
<div class="b" style="left:959.50px;top:730.88px;width:1.00px;height:190.24px;background:rgba(0,0,0,0.05);"></div>
<div class="b" style="left:1051.70px;top:730.88px;width:1.00px;height:190.24px;background:rgba(0,0,0,0.05);"></div>
<div class="b" style="left:1158.20px;top:730.88px;width:1.00px;height:190.24px;background:rgba(0,0,0,0.05);"></div>
<div class="b" style="left:1260.00px;top:730.88px;width:1.00px;height:190.24px;background:rgba(0,0,0,0.05);"></div>
<div class="b" style="left:1359.80px;top:730.88px;width:1.00px;height:190.24px;background:rgba(0,0,0,0.05);"></div>
<div class="b" style="left:1359.80px;top:132.50px;width:1.00px;height:789.20px;background:rgba(0,0,0,0.05);"></div>
<div class="b" style="left:1367.20px;top:134.00px;width:3.30px;height:450.50px;background:#878787;border-radius:1.5px"></div>
<svg style="left:1384px;top:511px" width="28" height="24" viewBox="0 0 28 24"><path d="M1 1.6 H9 L11.6 4.6 H23.6 L25.8 6.6 V19.6 H1 Z" fill="#e9be32"/><path d="M1 5.2 H24.6 L25.8 6.6 V19.6 H1 Z" fill="#f6d04e"/><circle cx="20.9" cy="17.4" r="4.9" fill="#1e3c90" stroke="#fff" stroke-width="0.6"/><path d="M18.9 20.2 L22.9 14.6" stroke="#fff" stroke-width="1.7" stroke-linecap="round"/></svg>
<div class="b" style="left:302px;top:927.7px;width:210.3px;height:23.2px;background:#fff;border-radius:3px;box-shadow:0 0 1px rgba(0,0,0,.15)"></div>
<span class="t" style="left:303.80px;top:933.36px;font-size:10.8px;line-height:14px;color:#262626;letter-spacing:0.06px;">Sauvegarder la mise en forme ?</span>
<svg style="left:467px;top:931px" width="20" height="16" viewBox="0 0 20 16"><path d="M2 8.6 L7 13 L17 3" fill="none" stroke="#1fae7c" stroke-width="2.6"/></svg>
<svg style="left:491px;top:930px" width="21" height="18" viewBox="0 0 21 18"><path d="M2.6 2.2 L18.2 16 M18.2 2.2 L2.6 16" fill="none" stroke="#e8405a" stroke-width="2.8"/></svg>
</body></html>
